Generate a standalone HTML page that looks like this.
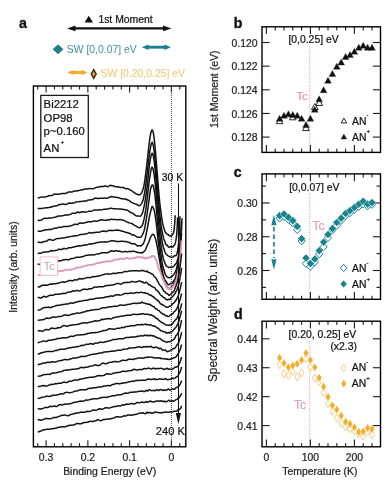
<!DOCTYPE html>
<html><head><meta charset="utf-8"><style>
html,body{margin:0;padding:0;background:#fff;}
svg{display:block;font-family:"Liberation Sans", sans-serif;will-change:transform;}
</style></head><body>
<svg width="392" height="486" viewBox="0 0 392 486">
<rect width="392" height="486" fill="#fff"/>
<text x="19" y="28.3" font-size="14.2" text-anchor="start" fill="#111" stroke="#111" stroke-width="0.35" font-weight="bold" >a</text>
<line x1="72" y1="28.4" x2="166.5" y2="28.4" stroke="#111" stroke-width="2.1" />
<polygon points="67.1,28.4 75.5,25.6 75.5,31.2" fill="#111" stroke="none" stroke-width="0" />
<polygon points="171.4,28.4 163,25.6 163,31.2" fill="#111" stroke="none" stroke-width="0" />
<polygon points="84.6,22.6 88.8,15.8 93,22.6" fill="#111" stroke="none" stroke-width="0" />
<text x="98.4" y="23.4" font-size="10.4" text-anchor="start" fill="#111" stroke="#111" stroke-width="0.22" font-weight="normal" >1st Moment</text>
<polygon points="53,49.3 58,44.8 63,49.3 58,53.8" fill="#17838f" stroke="#0f5e66" stroke-width="0.6" />
<text x="66.8" y="52.9" font-size="10.4" text-anchor="start" fill="#3f9296" stroke="#3f9296" stroke-width="0.22" font-weight="normal" stroke-opacity="0">SW [0,0.07] eV</text>
<line x1="146" y1="47.2" x2="167" y2="47.2" stroke="#17838f" stroke-width="2.9" />
<polygon points="141.8,47.2 148.5,44.5 148.5,49.9" fill="#17838f" stroke="none" stroke-width="0" />
<polygon points="171,47.2 164.3,44.5 164.3,49.9" fill="#17838f" stroke="none" stroke-width="0" />
<line x1="70" y1="72.5" x2="85" y2="72.5" stroke="#f0ae2c" stroke-width="3.2" />
<polygon points="67.3,72.5 73.3,70 73.3,75" fill="#f0ae2c" stroke="none" stroke-width="0" />
<polygon points="87.8,72.5 81.8,70 81.8,75" fill="#f0ae2c" stroke="none" stroke-width="0" />
<polygon points="91.2,74 93.7,69.6 96.2,74 93.7,78.4" fill="#d9a030" stroke="#2e2206" stroke-width="1.3" />
<text x="100.6" y="77.3" font-size="10.4" text-anchor="start" fill="#f0cc78" stroke="#f0cc78" stroke-width="0.22" font-weight="normal" stroke-opacity="0.5">SW [0.20,0.25] eV</text>
<line x1="179.75" y1="86" x2="179.75" y2="89.6" stroke="#1a1a1a" stroke-width="1.1" />
<line x1="179.75" y1="446.8" x2="179.75" y2="443.2" stroke="#1a1a1a" stroke-width="1.1" />
<line x1="171.4" y1="86" x2="171.4" y2="92.5" stroke="#1a1a1a" stroke-width="1.1" />
<line x1="171.4" y1="446.8" x2="171.4" y2="440.3" stroke="#1a1a1a" stroke-width="1.1" />
<line x1="163.05" y1="86" x2="163.05" y2="89.6" stroke="#1a1a1a" stroke-width="1.1" />
<line x1="163.05" y1="446.8" x2="163.05" y2="443.2" stroke="#1a1a1a" stroke-width="1.1" />
<line x1="154.69" y1="86" x2="154.69" y2="89.6" stroke="#1a1a1a" stroke-width="1.1" />
<line x1="154.69" y1="446.8" x2="154.69" y2="443.2" stroke="#1a1a1a" stroke-width="1.1" />
<line x1="146.34" y1="86" x2="146.34" y2="89.6" stroke="#1a1a1a" stroke-width="1.1" />
<line x1="146.34" y1="446.8" x2="146.34" y2="443.2" stroke="#1a1a1a" stroke-width="1.1" />
<line x1="137.98" y1="86" x2="137.98" y2="89.6" stroke="#1a1a1a" stroke-width="1.1" />
<line x1="137.98" y1="446.8" x2="137.98" y2="443.2" stroke="#1a1a1a" stroke-width="1.1" />
<line x1="129.63" y1="86" x2="129.63" y2="92.5" stroke="#1a1a1a" stroke-width="1.1" />
<line x1="129.63" y1="446.8" x2="129.63" y2="440.3" stroke="#1a1a1a" stroke-width="1.1" />
<line x1="121.28" y1="86" x2="121.28" y2="89.6" stroke="#1a1a1a" stroke-width="1.1" />
<line x1="121.28" y1="446.8" x2="121.28" y2="443.2" stroke="#1a1a1a" stroke-width="1.1" />
<line x1="112.92" y1="86" x2="112.92" y2="89.6" stroke="#1a1a1a" stroke-width="1.1" />
<line x1="112.92" y1="446.8" x2="112.92" y2="443.2" stroke="#1a1a1a" stroke-width="1.1" />
<line x1="104.57" y1="86" x2="104.57" y2="89.6" stroke="#1a1a1a" stroke-width="1.1" />
<line x1="104.57" y1="446.8" x2="104.57" y2="443.2" stroke="#1a1a1a" stroke-width="1.1" />
<line x1="96.21" y1="86" x2="96.21" y2="89.6" stroke="#1a1a1a" stroke-width="1.1" />
<line x1="96.21" y1="446.8" x2="96.21" y2="443.2" stroke="#1a1a1a" stroke-width="1.1" />
<line x1="87.86" y1="86" x2="87.86" y2="92.5" stroke="#1a1a1a" stroke-width="1.1" />
<line x1="87.86" y1="446.8" x2="87.86" y2="440.3" stroke="#1a1a1a" stroke-width="1.1" />
<line x1="79.51" y1="86" x2="79.51" y2="89.6" stroke="#1a1a1a" stroke-width="1.1" />
<line x1="79.51" y1="446.8" x2="79.51" y2="443.2" stroke="#1a1a1a" stroke-width="1.1" />
<line x1="71.15" y1="86" x2="71.15" y2="89.6" stroke="#1a1a1a" stroke-width="1.1" />
<line x1="71.15" y1="446.8" x2="71.15" y2="443.2" stroke="#1a1a1a" stroke-width="1.1" />
<line x1="62.8" y1="86" x2="62.8" y2="89.6" stroke="#1a1a1a" stroke-width="1.1" />
<line x1="62.8" y1="446.8" x2="62.8" y2="443.2" stroke="#1a1a1a" stroke-width="1.1" />
<line x1="54.44" y1="86" x2="54.44" y2="89.6" stroke="#1a1a1a" stroke-width="1.1" />
<line x1="54.44" y1="446.8" x2="54.44" y2="443.2" stroke="#1a1a1a" stroke-width="1.1" />
<line x1="46.09" y1="86" x2="46.09" y2="92.5" stroke="#1a1a1a" stroke-width="1.1" />
<line x1="46.09" y1="446.8" x2="46.09" y2="440.3" stroke="#1a1a1a" stroke-width="1.1" />
<line x1="37.74" y1="86" x2="37.74" y2="89.6" stroke="#1a1a1a" stroke-width="1.1" />
<line x1="37.74" y1="446.8" x2="37.74" y2="443.2" stroke="#1a1a1a" stroke-width="1.1" />
<text x="46.09" y="461.3" font-size="10.4" text-anchor="middle" fill="#222" stroke="#222" stroke-width="0.22" font-weight="normal" >0.3</text>
<text x="87.86" y="461.3" font-size="10.4" text-anchor="middle" fill="#222" stroke="#222" stroke-width="0.22" font-weight="normal" >0.2</text>
<text x="129.63" y="461.3" font-size="10.4" text-anchor="middle" fill="#222" stroke="#222" stroke-width="0.22" font-weight="normal" >0.1</text>
<text x="171.4" y="461.3" font-size="10.4" text-anchor="middle" fill="#222" stroke="#222" stroke-width="0.22" font-weight="normal" >0</text>
<text x="109.7" y="474.6" font-size="10.4" text-anchor="middle" fill="#222" stroke="#222" stroke-width="0.22" font-weight="normal" >Binding Energy (eV)</text>
<text x="16.5" y="267" font-size="10.4" text-anchor="middle" fill="#222" stroke="#222" stroke-width="0.22" font-weight="normal" transform="rotate(-90 16.5 267)">Intensity (arb. units)</text>
<line x1="171.4" y1="87" x2="171.4" y2="445.8" stroke="#444" stroke-width="1.0" stroke-dasharray="1 1"/>
<path d="M37.7,197.9 L38.7,197.77 L39.7,197.48 L40.7,197.12 L41.7,196.89 L42.7,196.98 L43.7,197.13 L44.7,197.06 L45.7,196.86 L46.7,196.57 L47.7,196.25 L48.7,195.81 L49.7,195.49 L50.7,195.63 L51.7,195.61 L52.7,195.13 L53.7,194.4 L54.7,194.03 L55.7,194.08 L56.7,194.23 L57.7,194.29 L58.7,194.2 L59.7,193.99 L60.7,193.73 L61.7,193.62 L62.7,193.48 L63.7,193.38 L64.7,193.5 L65.7,193.39 L66.7,193 L67.7,192.42 L68.7,192.03 L69.7,191.93 L70.7,191.97 L71.7,191.94 L72.7,191.67 L73.7,191.21 L74.7,190.9 L75.7,190.94 L76.7,190.99 L77.7,190.72 L78.7,190.54 L79.7,190.27 L80.7,189.91 L81.7,189.95 L82.7,189.83 L83.7,189.29 L84.7,189.11 L85.7,189.08 L86.7,188.98 L87.7,188.92 L88.7,188.64 L89.7,188.4 L90.7,188.58 L91.7,188.73 L92.7,188.72 L93.7,188.56 L94.7,188.13 L95.7,187.63 L96.7,187.3 L97.7,187.26 L98.7,187.05 L99.7,186.72 L100.7,186.43 L101.7,186.38 L102.7,186.57 L103.7,186.53 L104.7,186 L105.7,185.9 L106.7,186.4 L107.7,186.71 L108.7,186.28 L109.7,185.5 L110.7,185.32 L111.7,185.72 L112.7,185.84 L113.7,185.99 L114.7,186.47 L115.7,186.72 L116.7,186.66 L117.7,186.71 L118.7,187.01 L119.7,187.34 L120.7,187.43 L121.7,187.45 L122.7,187.42 L123.7,187.56 L124.7,188.21 L125.7,188.68 L126.7,188.63 L127.7,188.55 L128.7,189.09 L129.7,189.71 L130.7,190.04 L131.7,190.75 L132.7,191.52 L133.7,192.12 L134.7,192.99 L135.7,193.6 L136.7,193.99 L137.7,194.5 L138.7,194.87 L139.7,194.85 L140.7,194.21 L141.2,193.4 L141.7,192.62 L142.2,191.74 L142.7,190.25 L143.2,188.48 L143.7,186.73 L144.2,184.34 L144.7,181.01 L145.2,177.42 L145.7,173.9 L146.2,170.08 L146.7,165.96 L147.2,161.58 L147.7,156.83 L148.2,152.11 L148.7,147.31 L149.2,143.05 L149.7,139.56 L150.2,136.45 L150.7,133.66 L151.2,131.47 L151.7,130.2 L152.2,129.95 L152.7,130.65 L153.2,132.31 L153.7,135.08 L154.2,138.78 L154.7,143.27 L155.2,148.58 L155.7,154.51 L156.2,160.73 L156.7,166.75 L157.2,172.82 L157.7,179.13 L158.2,185.51 L158.7,191.56 L159.2,197.08 L159.7,202.33 L160.2,206.85 L160.7,210.42 L161.2,214.14 L161.7,217.89 L162.2,221.01 L162.7,223.46 L163.2,225.58 L163.7,227.52 L164.2,229.11 L164.7,230.59 L165.2,232.03 L165.7,232.75 L166.2,233.17 L166.7,233.77 L167.2,234.29 L167.7,234.45 L168.2,234.52 L168.7,235.13 L169.2,235.65 L169.7,235.64 L170.2,235.79 L170.7,236.09 L171.2,236.14 L171.7,235.7 L172.2,234.86 L172.7,234.23 L173.2,233.54 L173.7,232.14 L174.2,229.09 L174.7,223.73 L175.2,215.28" fill="none" stroke="#121212" stroke-width="1.5" stroke-linejoin="round"/>
<path d="M37.7,208.59 L38.7,208.58 L39.7,208.4 L40.7,208.5 L41.7,208.57 L42.7,208.31 L43.7,208.12 L44.7,208 L45.7,207.76 L46.7,207.67 L47.7,207.74 L48.7,207.56 L49.7,207.34 L50.7,207.22 L51.7,206.72 L52.7,206.42 L53.7,206.21 L54.7,206.09 L55.7,206.02 L56.7,205.81 L57.7,205.37 L58.7,204.75 L59.7,204.54 L60.7,204.61 L61.7,204.32 L62.7,203.96 L63.7,204 L64.7,204.39 L65.7,204.5 L66.7,204.18 L67.7,203.59 L68.7,203.2 L69.7,203.1 L70.7,203.32 L71.7,203.3 L72.7,203 L73.7,202.99 L74.7,202.74 L75.7,202.08 L76.7,201.71 L77.7,201.87 L78.7,201.7 L79.7,201.42 L80.7,201.41 L81.7,201.46 L82.7,201.28 L83.7,200.95 L84.7,201.04 L85.7,201.15 L86.7,200.82 L87.7,200.21 L88.7,199.89 L89.7,199.92 L90.7,199.8 L91.7,199.69 L92.7,199.54 L93.7,198.9 L94.7,198.26 L95.7,198.11 L96.7,198.19 L97.7,198.46 L98.7,198.43 L99.7,198.17 L100.7,198.14 L101.7,198.22 L102.7,198.2 L103.7,198.15 L104.7,198.03 L105.7,198.12 L106.7,198.24 L107.7,198.01 L108.7,197.56 L109.7,197.21 L110.7,196.73 L111.7,196.52 L112.7,196.72 L113.7,197.1 L114.7,197.15 L115.7,197.24 L116.7,197.4 L117.7,197.49 L118.7,197.66 L119.7,198.12 L120.7,198.56 L121.7,198.65 L122.7,198.83 L123.7,199.04 L124.7,198.98 L125.7,199.02 L126.7,199.53 L127.7,200.04 L128.7,200.23 L129.7,200.83 L130.7,201.76 L131.7,202.4 L132.7,202.87 L133.7,203.41 L134.7,203.74 L135.7,203.9 L136.7,204.34 L137.7,205.15 L138.7,205.75 L139.7,205.55 L140.7,204.75 L141.2,204.08 L141.7,203.3 L142.2,202.41 L142.7,201.15 L143.2,199.44 L143.7,197.28 L144.2,195.03 L144.7,192.19 L145.2,188.97 L145.7,185.67 L146.2,181.62 L146.7,177.09 L147.2,172.88 L147.7,168.72 L148.2,164.38 L148.7,160.18 L149.2,156.12 L149.7,152.29 L150.2,149 L150.7,146.42 L151.2,144.34 L151.7,142.82 L152.2,142.34 L152.7,143.43 L153.2,145.36 L153.7,147.81 L154.2,151.38 L154.7,155.85 L155.2,160.71 L155.7,166.62 L156.2,172.9 L156.7,178.9 L157.2,185.32 L157.7,191.75 L158.2,197.65 L158.7,203.38 L159.2,208.72 L159.7,213.5 L160.2,218.12 L160.7,222.48 L161.2,226.24 L161.7,229.32 L162.2,231.9 L162.7,234.24 L163.2,236.57 L163.7,238.64 L164.2,240.05 L164.7,241.15 L165.2,242.59 L165.7,244.17 L166.2,244.94 L166.7,244.97 L167.2,245.06 L167.7,245.86 L168.2,246.69 L168.7,247.13 L169.2,247.11 L169.7,246.95 L170.2,246.73 L170.7,246.57 L171.2,246.81 L171.7,246.84 L172.2,246.78 L172.7,246.97 L173.2,246.71 L173.7,245.83 L174.2,245.21 L174.7,244.67 L175.2,243.48 L175.7,241.44 L176.2,238.62 L176.7,234.37 L177.2,226.83 L177.6,217.39" fill="none" stroke="#121212" stroke-width="1.5" stroke-linejoin="round"/>
<path d="M37.7,220.04 L38.7,220.41 L39.7,220.52 L40.7,220.34 L41.7,219.8 L42.7,219.16 L43.7,218.69 L44.7,218.24 L45.7,218.21 L46.7,218.4 L47.7,218.34 L48.7,218.04 L49.7,217.93 L50.7,217.95 L51.7,217.88 L52.7,217.69 L53.7,217.39 L54.7,217.16 L55.7,217.04 L56.7,216.7 L57.7,216.27 L58.7,216.08 L59.7,216.06 L60.7,215.98 L61.7,215.85 L62.7,215.68 L63.7,215.46 L64.7,215.1 L65.7,214.86 L66.7,215.01 L67.7,215.09 L68.7,214.82 L69.7,214.46 L70.7,214.11 L71.7,213.57 L72.7,213.22 L73.7,213.27 L74.7,213.29 L75.7,213.14 L76.7,212.53 L77.7,212.04 L78.7,212.32 L79.7,212.69 L80.7,212.31 L81.7,211.79 L82.7,211.76 L83.7,211.96 L84.7,211.97 L85.7,211.91 L86.7,211.89 L87.7,211.61 L88.7,211.3 L89.7,211.3 L90.7,211.37 L91.7,211.16 L92.7,210.66 L93.7,210.12 L94.7,209.99 L95.7,210.03 L96.7,209.96 L97.7,209.97 L98.7,209.9 L99.7,209.72 L100.7,209.71 L101.7,209.9 L102.7,209.62 L103.7,209.14 L104.7,209.16 L105.7,209.31 L106.7,209.04 L107.7,208.91 L108.7,208.8 L109.7,208.42 L110.7,208.16 L111.7,208.33 L112.7,208.64 L113.7,208.84 L114.7,208.82 L115.7,208.76 L116.7,208.87 L117.7,208.94 L118.7,208.92 L119.7,208.95 L120.7,209.1 L121.7,209.24 L122.7,209.23 L123.7,209.42 L124.7,209.69 L125.7,209.84 L126.7,210.05 L127.7,210.36 L128.7,211.09 L129.7,211.98 L130.7,212.58 L131.7,212.9 L132.7,213.22 L133.7,213.88 L134.7,214.94 L135.7,215.66 L136.7,216 L137.7,216.08 L138.7,216.12 L139.7,216.14 L140.7,216.03 L141.2,215.54 L141.7,214.47 L142.2,213.6 L142.7,212.35 L143.2,210.31 L143.7,208.15 L144.2,206 L144.7,203.45 L145.2,200.45 L145.7,197.29 L146.2,193.78 L146.7,189.87 L147.2,185.73 L147.7,181.36 L148.2,176.55 L148.7,171.57 L149.2,167.11 L149.7,163.16 L150.2,159.85 L150.7,157.31 L151.2,155.4 L151.7,153.99 L152.2,153.2 L152.7,153.68 L153.2,155.43 L153.7,158.02 L154.2,161.4 L154.7,165.59 L155.2,170.55 L155.7,176.25 L156.2,182.16 L156.7,188.12 L157.2,194.16 L157.7,200.1 L158.2,205.86 L158.7,211.87 L159.2,217.62 L159.7,222.74 L160.2,227.57 L160.7,231.76 L161.2,235.32 L161.7,238.69 L162.2,241.8 L162.7,244.53 L163.2,246.73 L163.7,248.36 L164.2,249.75 L164.7,251.18 L165.2,252.53 L165.7,253.64 L166.2,254.29 L166.7,254.61 L167.2,254.98 L167.7,255.51 L168.2,255.87 L168.7,256.15 L169.2,256.48 L169.7,256.72 L170.2,256.9 L170.7,257.01 L171.2,257.15 L171.7,257.34 L172.2,257.18 L172.7,257.06 L173.2,256.92 L173.7,256.5 L174.2,255.83 L174.7,255.69 L175.2,255.85 L175.7,255.85 L176.2,255.4 L176.7,254.25 L177.2,252.68 L177.7,250.46 L178.2,247.15 L178.7,242.25 L179.2,235.13 L179.7,224.79 L180,216.25" fill="none" stroke="#121212" stroke-width="1.5" stroke-linejoin="round"/>
<path d="M37.7,231.48 L38.7,231.09 L39.7,231.15 L40.7,231.23 L41.7,230.83 L42.7,230.56 L43.7,230.45 L44.7,230.07 L45.7,229.7 L46.7,229.69 L47.7,229.7 L48.7,229.49 L49.7,229.32 L50.7,229.51 L51.7,229.4 L52.7,228.88 L53.7,228.47 L54.7,228.32 L55.7,228.24 L56.7,227.94 L57.7,227.68 L58.7,227.36 L59.7,227.21 L60.7,227.38 L61.7,227.34 L62.7,226.89 L63.7,226.56 L64.7,226.51 L65.7,226.39 L66.7,226.38 L67.7,226.44 L68.7,226.18 L69.7,225.9 L70.7,225.88 L71.7,225.56 L72.7,225.13 L73.7,224.68 L74.7,224.32 L75.7,224.26 L76.7,224.61 L77.7,224.41 L78.7,223.57 L79.7,222.99 L80.7,223.04 L81.7,223.32 L82.7,223.18 L83.7,222.91 L84.7,222.69 L85.7,222.43 L86.7,222.16 L87.7,221.96 L88.7,221.76 L89.7,221.82 L90.7,221.91 L91.7,221.76 L92.7,221.38 L93.7,221.09 L94.7,221.05 L95.7,221.15 L96.7,221.31 L97.7,221.11 L98.7,220.63 L99.7,220.21 L100.7,219.93 L101.7,219.8 L102.7,219.89 L103.7,220.06 L104.7,220.17 L105.7,220.29 L106.7,220.22 L107.7,219.83 L108.7,219.87 L109.7,219.92 L110.7,219.33 L111.7,219.15 L112.7,219.4 L113.7,219.56 L114.7,219.59 L115.7,219.59 L116.7,219.7 L117.7,219.81 L118.7,219.72 L119.7,219.44 L120.7,219.59 L121.7,219.93 L122.7,220.08 L123.7,220.4 L124.7,220.91 L125.7,221.31 L126.7,221.83 L127.7,222.32 L128.7,222.66 L129.7,222.95 L130.7,223.12 L131.7,223.41 L132.7,224.12 L133.7,224.83 L134.7,225.34 L135.7,225.97 L136.7,226.58 L137.7,227.03 L138.7,227.64 L139.7,227.85 L140.7,227.15 L141.2,226.58 L141.7,226.11 L142.2,225.48 L142.7,224.3 L143.2,222.66 L143.7,220.62 L144.2,218.4 L144.7,215.78 L145.2,212.93 L145.7,210.1 L146.2,206.49 L146.7,202.29 L147.2,198.31 L147.7,194.21 L148.2,189.93 L148.7,185.49 L149.2,181.18 L149.7,177.66 L150.2,174.58 L150.7,171.49 L151.2,168.96 L151.7,167.47 L152.2,167.18 L152.7,168.09 L153.2,169.75 L153.7,171.92 L154.2,175.06 L154.7,179.04 L155.2,183.28 L155.7,188.29 L156.2,194.1 L156.7,199.97 L157.2,205.69 L157.7,211.69 L158.2,217.88 L158.7,223.58 L159.2,228.76 L159.7,233.81 L160.2,238.58 L160.7,242.9 L161.2,246.62 L161.7,249.88 L162.2,252.92 L162.7,255.77 L163.2,258.02 L163.7,259.67 L164.2,261.13 L164.7,262.37 L165.2,263.66 L165.7,264.95 L166.2,265.82 L166.7,266.21 L167.2,266.58 L167.7,266.88 L168.2,267.04 L168.7,267.35 L169.2,267.6 L169.7,267.61 L170.2,267.25 L170.7,267.04 L171.2,267.27 L171.7,267.36 L172.2,267.23 L172.7,267.08 L173.2,266.68 L173.7,266.23 L174.2,265.75 L174.7,265.03 L175.2,264.51 L175.7,264.12 L176.2,263.43 L176.7,262.28 L177.2,260.84 L177.7,259.2 L178.2,257.48 L178.7,255.27 L179.2,252.33 L179.7,248.8 L180.2,244.14 L180.7,238.66 L181.2,232.26 L181.7,224.27 L182,218.33" fill="none" stroke="#121212" stroke-width="1.5" stroke-linejoin="round"/>
<path d="M37.7,241.79 L38.7,242.18 L39.7,242.41 L40.7,242.51 L41.7,242.47 L42.7,241.99 L43.7,241.61 L44.7,241.49 L45.7,241.38 L46.7,241.07 L47.7,240.37 L48.7,239.7 L49.7,239.37 L50.7,239.71 L51.7,239.98 L52.7,240.19 L53.7,240.16 L54.7,239.6 L55.7,239.04 L56.7,238.66 L57.7,238.42 L58.7,238.4 L59.7,238.48 L60.7,238.33 L61.7,238.1 L62.7,237.99 L63.7,237.98 L64.7,237.77 L65.7,237.49 L66.7,237.27 L67.7,236.91 L68.7,236.73 L69.7,236.86 L70.7,236.63 L71.7,236.29 L72.7,236.24 L73.7,235.94 L74.7,235.65 L75.7,235.81 L76.7,235.78 L77.7,235.53 L78.7,235.14 L79.7,234.65 L80.7,234.39 L81.7,234.5 L82.7,234.38 L83.7,234.14 L84.7,234.03 L85.7,233.93 L86.7,233.75 L87.7,233.38 L88.7,232.9 L89.7,232.5 L90.7,232.65 L91.7,233 L92.7,232.97 L93.7,232.58 L94.7,232.45 L95.7,232.47 L96.7,232.27 L97.7,232.25 L98.7,232.24 L99.7,231.97 L100.7,231.67 L101.7,231.3 L102.7,231.13 L103.7,231.07 L104.7,231.18 L105.7,231.45 L106.7,231.39 L107.7,230.79 L108.7,230.44 L109.7,230.4 L110.7,230.34 L111.7,230.49 L112.7,230.57 L113.7,230.46 L114.7,230.32 L115.7,230.19 L116.7,230.23 L117.7,230.11 L118.7,230.16 L119.7,230.42 L120.7,230.79 L121.7,231.16 L122.7,231.29 L123.7,231.45 L124.7,231.94 L125.7,232.36 L126.7,232.49 L127.7,232.8 L128.7,233.19 L129.7,233.32 L130.7,233.75 L131.7,234.73 L132.7,235.07 L133.7,234.85 L134.7,235.31 L135.7,236.19 L136.7,236.88 L137.7,237.19 L138.7,237.18 L139.7,237.14 L140.7,237.13 L141.2,236.89 L141.7,236.07 L142.2,235.21 L142.7,234.28 L143.2,233.01 L143.7,231.73 L144.2,230.21 L144.7,228.2 L145.2,225.6 L145.7,222.75 L146.2,219.8 L146.7,216.55 L147.2,213.02 L147.7,209.51 L148.2,206.05 L148.7,202.51 L149.2,198.71 L149.7,194.73 L150.2,191.22 L150.7,188.62 L151.2,187.02 L151.7,185.64 L152.2,184.9 L152.7,184.94 L153.2,185.72 L153.7,187.57 L154.2,190.05 L154.7,193.27 L155.2,197.63 L155.7,202.36 L156.2,207.2 L156.7,212.74 L157.2,218.47 L157.7,224.13 L158.2,229.74 L158.7,235.12 L159.2,240.08 L159.7,244.79 L160.2,249.14 L160.7,253.11 L161.2,256.64 L161.7,260.12 L162.2,263.32 L162.7,265.69 L163.2,267.47 L163.7,269.08 L164.2,270.81 L164.7,272.58 L165.2,274.04 L165.7,275.04 L166.2,275.81 L166.7,276.51 L167.2,277.08 L167.7,277.26 L168.2,277.5 L168.7,277.85 L169.2,277.86 L169.7,277.61 L170.2,277.38 L170.7,277.29 L171.2,277.2 L171.7,276.76 L172.2,276.19 L172.7,275.85 L173.2,275.32 L173.7,274.63 L174.2,274 L174.7,273.11 L175.2,272.13 L175.7,271.19 L176.2,269.79 L176.7,267.81 L177.2,265.72 L177.7,263.52 L178.2,261.02 L178.7,257.63 L179.2,253.62 L179.7,248.98 L180.2,243.78 L180.7,237.26 L181.2,229.03 L181.6,221.79" fill="none" stroke="#121212" stroke-width="1.5" stroke-linejoin="round"/>
<path d="M37.7,253.63 L38.7,253.33 L39.7,253.28 L40.7,253.37 L41.7,252.88 L42.7,252.33 L43.7,252.18 L44.7,252.03 L45.7,252.05 L46.7,251.91 L47.7,251.87 L48.7,251.82 L49.7,251.31 L50.7,250.65 L51.7,250.54 L52.7,250.9 L53.7,250.84 L54.7,250.51 L55.7,250.47 L56.7,250.34 L57.7,249.82 L58.7,249.24 L59.7,249.3 L60.7,249.61 L61.7,249.55 L62.7,249 L63.7,248.38 L64.7,248.49 L65.7,248.89 L66.7,248.86 L67.7,248.19 L68.7,247.8 L69.7,247.79 L70.7,247.75 L71.7,247.54 L72.7,247.35 L73.7,247 L74.7,246.76 L75.7,246.55 L76.7,246.32 L77.7,245.94 L78.7,245.8 L79.7,246.01 L80.7,245.89 L81.7,245.58 L82.7,245.52 L83.7,245.36 L84.7,244.97 L85.7,244.84 L86.7,244.88 L87.7,244.65 L88.7,244.11 L89.7,243.82 L90.7,244.08 L91.7,244.06 L92.7,243.75 L93.7,243.5 L94.7,243.31 L95.7,242.96 L96.7,242.61 L97.7,242.45 L98.7,242.34 L99.7,242.18 L100.7,242.11 L101.7,242.12 L102.7,241.97 L103.7,241.9 L104.7,241.81 L105.7,241.97 L106.7,242.08 L107.7,241.75 L108.7,241.39 L109.7,241.3 L110.7,241.1 L111.7,240.77 L112.7,240.83 L113.7,241.02 L114.7,241.07 L115.7,241.21 L116.7,241.45 L117.7,241.59 L118.7,241.61 L119.7,241.48 L120.7,241.31 L121.7,241.29 L122.7,241.35 L123.7,241.41 L124.7,241.39 L125.7,241.39 L126.7,241.73 L127.7,242.07 L128.7,242.3 L129.7,242.73 L130.7,243.22 L131.7,243.66 L132.7,243.86 L133.7,243.64 L134.7,243.85 L135.7,244.5 L136.7,245.53 L137.7,246.01 L138.7,245.7 L139.7,245.86 L140.7,246.02 L141.2,245.81 L141.7,245.32 L142.2,244.72 L142.7,244.46 L143.2,243.88 L143.7,242.77 L144.2,241.5 L144.7,240.13 L145.2,238.4 L145.7,236.35 L146.2,233.86 L146.7,231.24 L147.2,228.97 L147.7,226.57 L148.2,223.73 L148.7,220.66 L149.2,217.9 L149.7,215.41 L150.2,213.11 L150.7,211.21 L151.2,209.35 L151.7,207.41 L152.2,206.44 L152.7,206.86 L153.2,207.8 L153.7,208.92 L154.2,210.44 L154.7,212.54 L155.2,215.54 L155.7,219.17 L156.2,222.8 L156.7,226.84 L157.2,231.84 L157.7,237.26 L158.2,241.85 L158.7,245.73 L159.2,249.79 L159.7,254 L160.2,258.03 L160.7,261.78 L161.2,264.89 L161.7,267.74 L162.2,270.57 L162.7,272.87 L163.2,274.89 L163.7,276.69 L164.2,278.24 L164.7,279.54 L165.2,280.35 L165.7,280.89 L166.2,281.58 L166.7,282.51 L167.2,283.41 L167.7,284.12 L168.2,284.6 L168.7,284.82 L169.2,284.68 L169.7,284.28 L170.2,283.78 L170.7,283.4 L171.2,283.42 L171.7,283.39 L172.2,282.96 L172.7,282.27 L173.2,281.63 L173.7,281 L174.2,280.12 L174.7,279.12 L175.2,277.93 L175.7,276.53 L176.2,274.84 L176.7,272.63 L177.2,270.16 L177.7,267.51 L178.2,264.8 L178.7,261.89 L179.2,257.99 L179.7,253.02 L180.2,247.5 L180.7,241.26 L181.2,233.9 L181.6,227.14" fill="none" stroke="#121212" stroke-width="1.5" stroke-linejoin="round"/>
<path d="M37.7,264.06 L38.7,264.19 L39.7,264.46 L40.7,264.48 L41.7,264.01 L42.7,263.49 L43.7,263.21 L44.7,263.03 L45.7,263.06 L46.7,263.15 L47.7,262.92 L48.7,262.94 L49.7,263.17 L50.7,262.92 L51.7,262.34 L52.7,261.95 L53.7,262.02 L54.7,262.14 L55.7,261.97 L56.7,261.68 L57.7,261.31 L58.7,261 L59.7,260.78 L60.7,260.72 L61.7,260.48 L62.7,259.95 L63.7,259.77 L64.7,259.68 L65.7,259.45 L66.7,259.41 L67.7,259.67 L68.7,259.75 L69.7,259.34 L70.7,258.74 L71.7,258.45 L72.7,258.61 L73.7,258.36 L74.7,257.85 L75.7,257.46 L76.7,257.27 L77.7,257.13 L78.7,257.17 L79.7,257.18 L80.7,256.98 L81.7,256.71 L82.7,256.55 L83.7,256.46 L84.7,255.93 L85.7,255.43 L86.7,255.36 L87.7,255.22 L88.7,255.06 L89.7,255.05 L90.7,254.94 L91.7,254.7 L92.7,254.8 L93.7,255.01 L94.7,254.79 L95.7,254.38 L96.7,254.11 L97.7,253.93 L98.7,253.84 L99.7,253.7 L100.7,253.18 L101.7,252.66 L102.7,252.66 L103.7,252.76 L104.7,252.78 L105.7,252.68 L106.7,252.8 L107.7,252.78 L108.7,252.13 L109.7,251.5 L110.7,251.08 L111.7,250.81 L112.7,250.98 L113.7,251.31 L114.7,251.14 L115.7,250.76 L116.7,250.84 L117.7,251.14 L118.7,251.11 L119.7,251.15 L120.7,251.47 L121.7,251.87 L122.7,252 L123.7,251.75 L124.7,251.46 L125.7,251.56 L126.7,251.88 L127.7,251.83 L128.7,251.54 L129.7,251.51 L130.7,251.56 L131.7,251.49 L132.7,251.32 L133.7,251.24 L134.7,251.37 L135.7,251.73 L136.7,252.32 L137.7,252.49 L138.7,252.52 L139.7,252.87 L140.7,252.79 L141.2,252.56 L141.7,252.91 L142.2,253.08 L142.7,252.74 L143.2,252.06 L143.7,251.7 L144.2,251.37 L144.7,250.83 L145.2,250.19 L145.7,249.26 L146.2,247.88 L146.7,246.58 L147.2,245.49 L147.7,244.47 L148.2,243.4 L148.7,242.27 L149.2,240.93 L149.7,239.42 L150.2,237.96 L150.7,236.9 L151.2,236.18 L151.7,235.39 L152.2,234.62 L152.7,234.32 L153.2,234.45 L153.7,234.71 L154.2,235.51 L154.7,236.67 L155.2,237.98 L155.7,239.66 L156.2,241.7 L156.7,244.22 L157.2,246.68 L157.7,249.24 L158.2,252.25 L158.7,255.33 L159.2,258.39 L159.7,261.16 L160.2,263.93 L160.7,266.69 L161.2,269.24 L161.7,271.63 L162.2,273.89 L162.7,276.07 L163.2,277.9 L163.7,279.28 L164.2,280.62 L164.7,282.36 L165.2,283.58 L165.7,284.41 L166.2,285.58 L166.7,286.71 L167.2,287.35 L167.7,287.73 L168.2,288.27 L168.7,288.66 L169.2,288.84 L169.7,288.51 L170.2,288.01 L170.7,287.4 L171.2,287 L171.7,286.96 L172.2,286.75 L172.7,286.2 L173.2,285.17 L173.7,283.79 L174.2,282.51 L174.7,281.49 L175.2,280.38 L175.7,279.14 L176.2,277.78 L176.7,275.95 L177.2,273.68 L177.7,271.15 L178.2,268.29 L178.7,265.1 L179.2,261.41 L179.7,256.86 L180.2,251.33 L180.7,245.37 L181.2,238.96 L181.6,232.89" fill="none" stroke="#121212" stroke-width="1.5" stroke-linejoin="round"/>
<path d="M37.7,275.79 L38.7,275.22 L39.7,275 L40.7,274.82 L41.7,274.5 L42.7,274.51 L43.7,274.78 L44.7,274.88 L45.7,274.52 L46.7,273.75 L47.7,273.35 L48.7,273.53 L49.7,273.55 L50.7,273.11 L51.7,272.73 L52.7,272.81 L53.7,272.81 L54.7,272.47 L55.7,272.09 L56.7,271.97 L57.7,271.74 L58.7,271.16 L59.7,270.76 L60.7,270.9 L61.7,270.97 L62.7,270.81 L63.7,270.56 L64.7,270.17 L65.7,269.89 L66.7,269.82 L67.7,269.91 L68.7,269.88 L69.7,269.7 L70.7,269.74 L71.7,269.58 L72.7,269.17 L73.7,268.92 L74.7,268.68 L75.7,268.13 L76.7,267.6 L77.7,267.36 L78.7,267.51 L79.7,267.6 L80.7,267.33 L81.7,266.92 L82.7,266.53 L83.7,266.16 L84.7,265.91 L85.7,265.88 L86.7,265.53 L87.7,265.06 L88.7,264.84 L89.7,264.9 L90.7,265.08 L91.7,264.88 L92.7,264.47 L93.7,264.46 L94.7,264.28 L95.7,263.65 L96.7,263.11 L97.7,262.97 L98.7,263 L99.7,262.94 L100.7,262.53 L101.7,262.11 L102.7,262.03 L103.7,261.97 L104.7,261.9 L105.7,261.55 L106.7,261.23 L107.7,261.11 L108.7,261.24 L109.7,261.49 L110.7,261.42 L111.7,261.06 L112.7,260.52 L113.7,259.97 L114.7,259.76 L115.7,259.65 L116.7,259.58 L117.7,259.55 L118.7,259.27 L119.7,258.9 L120.7,258.56 L121.7,258.51 L122.7,258.96 L123.7,259.17 L124.7,258.72 L125.7,257.98 L126.7,257.67 L127.7,258.14 L128.7,258.55 L129.7,258.55 L130.7,258.59 L131.7,258.62 L132.7,258.36 L133.7,258.06 L134.7,258.04 L135.7,257.78 L136.7,257.28 L137.7,257.06 L138.7,257.07 L139.7,257.31 L140.7,257.36 L141.2,257.02 L141.7,257 L142.2,257.56 L142.7,257.87 L143.2,257.77 L143.7,257.58 L144.2,257.97 L144.7,258.45 L145.2,258.37 L145.7,257.91 L146.2,257.72 L146.7,257.82 L147.2,258.07 L147.7,258.07 L148.2,257.69 L148.7,257.4 L149.2,257.44 L149.7,257.36 L150.2,257.26 L150.7,257.17 L151.2,257.03 L151.7,256.54 L152.2,255.95 L152.7,255.85 L153.2,255.93 L153.7,255.91 L154.2,256.4 L154.7,257.36 L155.2,258.31 L155.7,259.07 L156.2,259.9 L156.7,261.32 L157.2,263.28 L157.7,265.3 L158.2,267 L158.7,268.23 L159.2,269.63 L159.7,270.81 L160.2,271.7 L160.7,273.01 L161.2,274.54 L161.7,275.9 L162.2,277.25 L162.7,278.55 L163.2,279.71 L163.7,280.92 L164.2,281.99 L164.7,283.12 L165.2,284.29 L165.7,285.29 L166.2,286.4 L166.7,287.38 L167.2,287.85 L167.7,288.26 L168.2,288.7 L168.7,288.96 L169.2,289.02 L169.7,288.8 L170.2,288.6 L170.7,288.25 L171.2,288.02 L171.7,287.89 L172.2,287.47 L172.7,287.15 L173.2,286.62 L173.7,285.73 L174.2,284.7 L174.7,283.98 L175.2,282.98 L175.7,281.49 L176.2,280.13 L176.7,278.73 L177.2,276.51 L177.7,273.88 L178.2,271.27 L178.7,268.52 L179.2,265.25 L179.7,261.47 L180.2,257.02 L180.7,251.64 L181.2,245.67 L181.6,240.44" fill="none" stroke="#dc9cb5" stroke-width="1.9" stroke-linejoin="round"/>
<path d="M37.7,286.78 L38.7,287.04 L39.7,286.86 L40.7,286.08 L41.7,285.52 L42.7,285.25 L43.7,285.15 L44.7,285.17 L45.7,285.08 L46.7,285.28 L47.7,285.21 L48.7,284.6 L49.7,284.17 L50.7,284.04 L51.7,284.14 L52.7,284 L53.7,283.85 L54.7,283.83 L55.7,283.71 L56.7,283.42 L57.7,283.15 L58.7,282.92 L59.7,282.68 L60.7,282.38 L61.7,282.1 L62.7,281.83 L63.7,282.06 L64.7,282.34 L65.7,281.93 L66.7,281.4 L67.7,281.16 L68.7,280.78 L69.7,280.46 L70.7,280.59 L71.7,280.83 L72.7,280.71 L73.7,280.27 L74.7,279.85 L75.7,279.82 L76.7,280.02 L77.7,279.7 L78.7,278.97 L79.7,278.51 L80.7,278.78 L81.7,279.15 L82.7,278.79 L83.7,278.5 L84.7,278.39 L85.7,278.14 L86.7,277.74 L87.7,277.38 L88.7,277.45 L89.7,277.67 L90.7,277.44 L91.7,277.06 L92.7,276.63 L93.7,276.58 L94.7,276.73 L95.7,276.6 L96.7,276.25 L97.7,276.16 L98.7,275.99 L99.7,275.69 L100.7,275.46 L101.7,275.12 L102.7,274.84 L103.7,274.53 L104.7,274.14 L105.7,274.12 L106.7,274 L107.7,273.84 L108.7,273.98 L109.7,274.13 L110.7,274.05 L111.7,273.83 L112.7,273.32 L113.7,273.2 L114.7,273.54 L115.7,273.54 L116.7,273.23 L117.7,272.9 L118.7,272.87 L119.7,272.82 L120.7,272.69 L121.7,272.57 L122.7,272.39 L123.7,271.89 L124.7,271.46 L125.7,271.45 L126.7,271.65 L127.7,271.39 L128.7,271.04 L129.7,270.93 L130.7,270.89 L131.7,270.81 L132.7,270.83 L133.7,270.8 L134.7,270.7 L135.7,270.67 L136.7,270.77 L137.7,270.82 L138.7,270.92 L139.7,270.96 L140.7,270.7 L141.2,270.32 L141.7,270.39 L142.2,270.68 L142.7,270.8 L143.2,270.59 L143.7,270.62 L144.2,270.87 L144.7,271.16 L145.2,271.41 L145.7,271.46 L146.2,271.39 L146.7,271.09 L147.2,271.24 L147.7,271.94 L148.2,272.34 L148.7,272.48 L149.2,272.6 L149.7,272.69 L150.2,272.85 L150.7,273.28 L151.2,273.7 L151.7,274.1 L152.2,274.16 L152.7,274.14 L153.2,274.76 L153.7,275.72 L154.2,276.27 L154.7,276.72 L155.2,277.3 L155.7,277.85 L156.2,278.49 L156.7,279.36 L157.2,280.34 L157.7,281.3 L158.2,282.16 L158.7,283.23 L159.2,284.22 L159.7,284.95 L160.2,285.48 L160.7,285.98 L161.2,286.62 L161.7,287.29 L162.2,288.01 L162.7,288.87 L163.2,289.88 L163.7,290.96 L164.2,291.52 L164.7,291.68 L165.2,292.01 L165.7,292.72 L166.2,293.25 L166.7,293.45 L167.2,293.58 L167.7,293.91 L168.2,294.59 L168.7,295.18 L169.2,295.4 L169.7,294.98 L170.2,294.57 L170.7,294.36 L171.2,293.86 L171.7,293.2 L172.2,292.56 L172.7,292.16 L173.2,291.96 L173.7,291.46 L174.2,290.52 L174.7,289.2 L175.2,287.89 L175.7,286.68 L176.2,285.39 L176.7,283.82 L177.2,282.38 L177.7,280.77 L178.2,278.48 L178.7,275.69 L179.2,272.77 L179.7,269.31 L180.2,265.43 L180.7,261.47 L181.2,257.38 L181.6,253.63" fill="none" stroke="#121212" stroke-width="1.5" stroke-linejoin="round"/>
<path d="M37.7,297.6 L38.7,297.53 L39.7,297.8 L40.7,298.14 L41.7,297.74 L42.7,296.88 L43.7,296.33 L44.7,296.5 L45.7,296.96 L46.7,296.93 L47.7,296.3 L48.7,295.71 L49.7,295.34 L50.7,295.17 L51.7,295.28 L52.7,295.19 L53.7,294.96 L54.7,294.44 L55.7,294.22 L56.7,294.32 L57.7,294.31 L58.7,294.27 L59.7,293.96 L60.7,293.68 L61.7,293.72 L62.7,293.52 L63.7,293.23 L64.7,293.42 L65.7,293.34 L66.7,292.79 L67.7,292.12 L68.7,291.95 L69.7,292.1 L70.7,292.01 L71.7,291.46 L72.7,290.98 L73.7,290.8 L74.7,290.95 L75.7,290.88 L76.7,290.51 L77.7,290.51 L78.7,290.85 L79.7,290.97 L80.7,290.58 L81.7,289.93 L82.7,289.41 L83.7,289.2 L84.7,289.21 L85.7,289.3 L86.7,289.41 L87.7,289.42 L88.7,289.01 L89.7,288.69 L90.7,288.83 L91.7,288.7 L92.7,288.14 L93.7,287.48 L94.7,287.04 L95.7,287.12 L96.7,287.26 L97.7,286.92 L98.7,286.64 L99.7,286.74 L100.7,286.83 L101.7,286.82 L102.7,286.76 L103.7,286.52 L104.7,286.1 L105.7,285.84 L106.7,285.6 L107.7,285.54 L108.7,285.46 L109.7,285.36 L110.7,285.25 L111.7,285.1 L112.7,285.04 L113.7,284.83 L114.7,284.37 L115.7,283.89 L116.7,283.6 L117.7,283.51 L118.7,283.57 L119.7,283.88 L120.7,284.19 L121.7,283.87 L122.7,283.27 L123.7,282.7 L124.7,282.44 L125.7,282.43 L126.7,282.38 L127.7,282.36 L128.7,282.48 L129.7,282.31 L130.7,281.95 L131.7,281.52 L132.7,281.62 L133.7,281.86 L134.7,281.93 L135.7,281.94 L136.7,281.82 L137.7,281.48 L138.7,281.08 L139.7,280.97 L140.7,281.16 L141.2,281.7 L141.7,281.98 L142.2,281.87 L142.7,281.81 L143.2,282.21 L143.7,282.88 L144.2,283.1 L144.7,282.94 L145.2,282.74 L145.7,282.31 L146.2,282.21 L146.7,282.59 L147.2,282.96 L147.7,283.43 L148.2,284.21 L148.7,284.78 L149.2,284.66 L149.7,284.71 L150.2,285.06 L150.7,285.52 L151.2,286.12 L151.7,286.43 L152.2,286.39 L152.7,286.69 L153.2,287.17 L153.7,287.46 L154.2,287.46 L154.7,287.61 L155.2,288.27 L155.7,289.34 L156.2,290.08 L156.7,290.29 L157.2,290.44 L157.7,291.05 L158.2,291.62 L158.7,292.1 L159.2,292.88 L159.7,293.83 L160.2,294.49 L160.7,294.92 L161.2,295.33 L161.7,295.68 L162.2,296.18 L162.7,296.74 L163.2,297.21 L163.7,297.51 L164.2,297.76 L164.7,298.07 L165.2,298.6 L165.7,299.25 L166.2,299.46 L166.7,299.67 L167.2,299.98 L167.7,299.71 L168.2,299.21 L168.7,299.32 L169.2,299.61 L169.7,299.66 L170.2,299.28 L170.7,298.5 L171.2,297.64 L171.7,297.21 L172.2,297.05 L172.7,296.59 L173.2,295.82 L173.7,295.17 L174.2,294.62 L174.7,294.02 L175.2,293.2 L175.7,292.08 L176.2,291.07 L176.7,290.37 L177.2,289.26 L177.7,287.63 L178.2,285.96 L178.7,284.12 L179.2,282.02 L179.7,279.55 L180.2,276.86 L180.7,274.17 L181.2,271 L181.6,267.89" fill="none" stroke="#121212" stroke-width="1.5" stroke-linejoin="round"/>
<path d="M37.7,310.29 L38.7,310.1 L39.7,309.86 L40.7,309.48 L41.7,308.84 L42.7,308.17 L43.7,307.72 L44.7,307.55 L45.7,307.57 L46.7,307.51 L47.7,307.24 L48.7,307.1 L49.7,307.58 L50.7,307.63 L51.7,307.07 L52.7,306.7 L53.7,306.47 L54.7,306.16 L55.7,305.82 L56.7,305.51 L57.7,305.29 L58.7,305.25 L59.7,305.16 L60.7,304.92 L61.7,304.62 L62.7,304.52 L63.7,304.47 L64.7,304.26 L65.7,303.97 L66.7,304.01 L67.7,304.06 L68.7,303.76 L69.7,303.28 L70.7,302.98 L71.7,302.99 L72.7,303.16 L73.7,303.07 L74.7,302.56 L75.7,302.18 L76.7,302.09 L77.7,301.84 L78.7,301.42 L79.7,301.23 L80.7,301.27 L81.7,301.12 L82.7,300.66 L83.7,300.45 L84.7,300.42 L85.7,300.22 L86.7,300.2 L87.7,300.13 L88.7,299.8 L89.7,299.47 L90.7,299.36 L91.7,299.3 L92.7,299.15 L93.7,298.97 L94.7,298.77 L95.7,298.36 L96.7,298.27 L97.7,298.37 L98.7,298.31 L99.7,298.01 L100.7,297.8 L101.7,297.68 L102.7,297.79 L103.7,297.74 L104.7,297.29 L105.7,296.9 L106.7,296.72 L107.7,296.85 L108.7,296.78 L109.7,296.26 L110.7,295.87 L111.7,296 L112.7,296.19 L113.7,296.04 L114.7,295.47 L115.7,294.81 L116.7,294.78 L117.7,294.93 L118.7,294.79 L119.7,294.98 L120.7,295.13 L121.7,294.87 L122.7,294.44 L123.7,293.84 L124.7,293.43 L125.7,293.39 L126.7,293.41 L127.7,293.42 L128.7,293.38 L129.7,293.21 L130.7,293.1 L131.7,293.07 L132.7,293.13 L133.7,293.24 L134.7,293.01 L135.7,292.65 L136.7,292.43 L137.7,292.49 L138.7,292.71 L139.7,292.53 L140.7,292.23 L141.2,292.23 L141.7,292.42 L142.2,292.63 L142.7,292.76 L143.2,292.7 L143.7,292.83 L144.2,292.86 L144.7,292.79 L145.2,293.01 L145.7,293.31 L146.2,293.49 L146.7,293.55 L147.2,293.51 L147.7,293.42 L148.2,293.77 L148.7,294.5 L149.2,294.91 L149.7,294.94 L150.2,295.06 L150.7,295.23 L151.2,295.17 L151.7,295.61 L152.2,296.36 L152.7,296.68 L153.2,296.61 L153.7,296.96 L154.2,297.81 L154.7,298.21 L155.2,298.41 L155.7,298.91 L156.2,299.26 L156.7,299.48 L157.2,300.25 L157.7,300.71 L158.2,300.83 L158.7,301.3 L159.2,301.83 L159.7,302.67 L160.2,303.46 L160.7,303.93 L161.2,303.99 L161.7,304.29 L162.2,304.71 L162.7,304.82 L163.2,304.99 L163.7,305.36 L164.2,305.67 L164.7,305.96 L165.2,306.44 L165.7,306.83 L166.2,307.09 L166.7,307.31 L167.2,307.27 L167.7,307.23 L168.2,307.03 L168.7,306.73 L169.2,306.35 L169.7,306.28 L170.2,306.12 L170.7,305.74 L171.2,305.36 L171.7,304.95 L172.2,304.33 L172.7,303.71 L173.2,303.42 L173.7,303.08 L174.2,302.49 L174.7,301.87 L175.2,301.42 L175.7,300.82 L176.2,299.86 L176.7,298.96 L177.2,298.25 L177.7,297.23 L178.2,295.9 L178.7,294.29 L179.2,292.42 L179.7,290.64 L180.2,288.77 L180.7,286.46 L181.2,284.05 L181.6,282.09" fill="none" stroke="#121212" stroke-width="1.5" stroke-linejoin="round"/>
<path d="M37.7,320.33 L38.7,320.17 L39.7,320.07 L40.7,319.9 L41.7,319.86 L42.7,319.81 L43.7,319.56 L44.7,319.07 L45.7,318.4 L46.7,318.04 L47.7,318.15 L48.7,318.42 L49.7,318.32 L50.7,317.82 L51.7,317.5 L52.7,317.2 L53.7,317.02 L54.7,317.07 L55.7,317.16 L56.7,317.09 L57.7,316.85 L58.7,316.52 L59.7,316.51 L60.7,316.44 L61.7,316.13 L62.7,315.77 L63.7,315.3 L64.7,314.94 L65.7,314.89 L66.7,315.15 L67.7,315.42 L68.7,315.16 L69.7,314.92 L70.7,314.62 L71.7,314.34 L72.7,314.07 L73.7,313.8 L74.7,313.71 L75.7,313.39 L76.7,313 L77.7,313.06 L78.7,313.14 L79.7,313.09 L80.7,312.92 L81.7,312.53 L82.7,312.32 L83.7,312.1 L84.7,311.79 L85.7,311.53 L86.7,311.01 L87.7,310.76 L88.7,310.79 L89.7,310.57 L90.7,310.28 L91.7,310.02 L92.7,309.95 L93.7,309.84 L94.7,309.69 L95.7,309.48 L96.7,309.48 L97.7,309.4 L98.7,309.24 L99.7,309.04 L100.7,308.66 L101.7,308.03 L102.7,307.69 L103.7,307.82 L104.7,307.83 L105.7,307.77 L106.7,307.55 L107.7,307.08 L108.7,306.9 L109.7,306.85 L110.7,306.8 L111.7,306.83 L112.7,306.63 L113.7,306.28 L114.7,306.17 L115.7,306.24 L116.7,306.13 L117.7,306.03 L118.7,305.65 L119.7,305.05 L120.7,304.92 L121.7,305.15 L122.7,305.32 L123.7,305.36 L124.7,305.28 L125.7,305 L126.7,304.58 L127.7,304.39 L128.7,304.35 L129.7,304.2 L130.7,303.97 L131.7,303.66 L132.7,303.6 L133.7,303.35 L134.7,303.14 L135.7,303.4 L136.7,303.46 L137.7,303.16 L138.7,302.91 L139.7,303.09 L140.7,303.23 L141.2,302.63 L141.7,302.05 L142.2,302.27 L142.7,302.66 L143.2,302.93 L143.7,302.98 L144.2,302.96 L144.7,303.16 L145.2,303.44 L145.7,303.59 L146.2,303.87 L146.7,303.74 L147.2,303.71 L147.7,304.11 L148.2,304.27 L148.7,304.24 L149.2,304.28 L149.7,304.22 L150.2,304.6 L150.7,305.18 L151.2,305.29 L151.7,305.42 L152.2,306 L152.7,306.44 L153.2,306.4 L153.7,306.38 L154.2,306.92 L154.7,307.71 L155.2,308.41 L155.7,308.83 L156.2,308.83 L156.7,308.99 L157.2,309.54 L157.7,310.08 L158.2,310.36 L158.7,310.59 L159.2,310.73 L159.7,311.34 L160.2,311.96 L160.7,312.53 L161.2,312.87 L161.7,313.02 L162.2,313.48 L162.7,314.04 L163.2,314.33 L163.7,314.29 L164.2,314.35 L164.7,314.9 L165.2,315.74 L165.7,315.83 L166.2,315.59 L166.7,315.63 L167.2,315.99 L167.7,316.24 L168.2,316.47 L168.7,316.41 L169.2,316.11 L169.7,315.74 L170.2,315.23 L170.7,314.86 L171.2,314.5 L171.7,314.17 L172.2,314.05 L172.7,313.88 L173.2,313.23 L173.7,312.14 L174.2,311.61 L174.7,311.31 L175.2,310.94 L175.7,310.49 L176.2,309.77 L176.7,308.77 L177.2,307.75 L177.7,306.77 L178.2,305.4 L178.7,303.74 L179.2,302.22 L179.7,300.57 L180.2,298.93 L180.7,297.3 L181.2,295.33 L181.6,293.48" fill="none" stroke="#121212" stroke-width="1.5" stroke-linejoin="round"/>
<path d="M37.7,330.95 L38.7,330.85 L39.7,330.77 L40.7,330.91 L41.7,331.11 L42.7,331.16 L43.7,330.72 L44.7,330.01 L45.7,329.57 L46.7,329.49 L47.7,329.77 L48.7,329.92 L49.7,329.3 L50.7,328.38 L51.7,328.03 L52.7,328.15 L53.7,328.38 L54.7,328.41 L55.7,328.42 L56.7,328.27 L57.7,327.73 L58.7,327.57 L59.7,327.76 L60.7,327.38 L61.7,326.59 L62.7,325.94 L63.7,325.61 L64.7,325.6 L65.7,325.96 L66.7,326.22 L67.7,326.16 L68.7,325.75 L69.7,325.35 L70.7,325.34 L71.7,325.33 L72.7,324.87 L73.7,324.72 L74.7,324.74 L75.7,324.62 L76.7,324.4 L77.7,324.34 L78.7,324.2 L79.7,323.8 L80.7,323.43 L81.7,323.16 L82.7,322.92 L83.7,322.83 L84.7,322.82 L85.7,322.93 L86.7,323.06 L87.7,322.82 L88.7,322.37 L89.7,322.17 L90.7,322.06 L91.7,321.89 L92.7,321.59 L93.7,321.27 L94.7,320.92 L95.7,320.81 L96.7,321.03 L97.7,321.09 L98.7,320.82 L99.7,320.46 L100.7,320.05 L101.7,319.53 L102.7,319.25 L103.7,319.39 L104.7,319.29 L105.7,318.92 L106.7,318.76 L107.7,318.72 L108.7,318.56 L109.7,318.79 L110.7,318.92 L111.7,318.69 L112.7,318.04 L113.7,317.59 L114.7,317.4 L115.7,317.27 L116.7,317.06 L117.7,316.93 L118.7,316.87 L119.7,316.55 L120.7,316.35 L121.7,316.29 L122.7,316.04 L123.7,315.87 L124.7,315.76 L125.7,315.44 L126.7,315.13 L127.7,315.16 L128.7,315.31 L129.7,315.31 L130.7,314.98 L131.7,314.76 L132.7,314.47 L133.7,314.26 L134.7,314.25 L135.7,314.41 L136.7,314.59 L137.7,314.52 L138.7,314.24 L139.7,314.29 L140.7,314.29 L141.2,314.05 L141.7,313.81 L142.2,313.85 L142.7,313.84 L143.2,313.79 L143.7,313.82 L144.2,314.06 L144.7,314.29 L145.2,314.26 L145.7,314.16 L146.2,314.33 L146.7,314.37 L147.2,314.21 L147.7,314.22 L148.2,314.17 L148.7,314.46 L149.2,314.89 L149.7,315.13 L150.2,315 L150.7,314.77 L151.2,314.73 L151.7,315.03 L152.2,315.54 L152.7,315.77 L153.2,315.96 L153.7,316.28 L154.2,316.46 L154.7,316.76 L155.2,317.39 L155.7,318.2 L156.2,318.54 L156.7,318.37 L157.2,318.41 L157.7,319 L158.2,319.62 L158.7,320.12 L159.2,320.52 L159.7,320.92 L160.2,321.49 L160.7,321.93 L161.2,322.1 L161.7,322.26 L162.2,322.63 L162.7,323.03 L163.2,323.22 L163.7,323.45 L164.2,323.65 L164.7,323.98 L165.2,324.53 L165.7,324.88 L166.2,325.1 L166.7,325.13 L167.2,324.97 L167.7,325.12 L168.2,325.38 L168.7,325.33 L169.2,325.07 L169.7,325.07 L170.2,325.09 L170.7,325.05 L171.2,324.82 L171.7,324.53 L172.2,324.18 L172.7,323.41 L173.2,322.61 L173.7,321.99 L174.2,321.41 L174.7,320.78 L175.2,320.07 L175.7,319.69 L176.2,319.31 L176.7,318.59 L177.2,317.61 L177.7,316.57 L178.2,315.17 L178.7,313.58 L179.2,311.94 L179.7,310.51 L180.2,309.23 L180.7,307.78 L181.2,305.61 L181.6,303.42" fill="none" stroke="#121212" stroke-width="1.5" stroke-linejoin="round"/>
<path d="M37.7,342.73 L38.7,342.45 L39.7,342.12 L40.7,341.85 L41.7,341.54 L42.7,341.13 L43.7,340.88 L44.7,341.13 L45.7,341.47 L46.7,341.31 L47.7,340.72 L48.7,340.29 L49.7,340.27 L50.7,340.33 L51.7,340.08 L52.7,339.73 L53.7,339.58 L54.7,339.45 L55.7,339.23 L56.7,338.8 L57.7,338.48 L58.7,338.55 L59.7,338.5 L60.7,338.16 L61.7,338.09 L62.7,338.06 L63.7,337.77 L64.7,337.72 L65.7,337.96 L66.7,337.83 L67.7,337.39 L68.7,337 L69.7,336.75 L70.7,336.26 L71.7,336.16 L72.7,336.39 L73.7,336.25 L74.7,335.69 L75.7,335.34 L76.7,335.12 L77.7,334.9 L78.7,335.04 L79.7,335.03 L80.7,334.8 L81.7,334.74 L82.7,334.67 L83.7,334.49 L84.7,334.39 L85.7,334.21 L86.7,333.76 L87.7,333.43 L88.7,333.3 L89.7,333.24 L90.7,333.02 L91.7,332.85 L92.7,332.71 L93.7,332.67 L94.7,332.66 L95.7,332.47 L96.7,332.38 L97.7,332.25 L98.7,331.97 L99.7,331.62 L100.7,331.46 L101.7,331.18 L102.7,330.79 L103.7,330.58 L104.7,330.44 L105.7,330.38 L106.7,330.23 L107.7,329.61 L108.7,328.97 L109.7,328.77 L110.7,328.87 L111.7,328.93 L112.7,329.03 L113.7,329.2 L114.7,329.22 L115.7,328.86 L116.7,328.42 L117.7,328.14 L118.7,328.24 L119.7,328.32 L120.7,327.9 L121.7,327.36 L122.7,327.51 L123.7,327.66 L124.7,327.19 L125.7,326.56 L126.7,326.46 L127.7,326.57 L128.7,326.36 L129.7,325.94 L130.7,325.8 L131.7,325.81 L132.7,325.71 L133.7,325.78 L134.7,325.63 L135.7,325.23 L136.7,324.85 L137.7,324.81 L138.7,324.87 L139.7,324.84 L140.7,324.87 L141.2,324.48 L141.7,324.28 L142.2,324.56 L142.7,324.83 L143.2,324.81 L143.7,324.59 L144.2,324.46 L144.7,324.34 L145.2,324.07 L145.7,324.01 L146.2,324.5 L146.7,324.76 L147.2,324.67 L147.7,324.61 L148.2,324.72 L148.7,324.84 L149.2,324.97 L149.7,324.99 L150.2,324.8 L150.7,324.86 L151.2,325.01 L151.7,325.39 L152.2,325.71 L152.7,325.64 L153.2,325.72 L153.7,326.03 L154.2,326.28 L154.7,326.19 L155.2,326.31 L155.7,326.83 L156.2,327.2 L156.7,327.57 L157.2,327.91 L157.7,328.01 L158.2,328.28 L158.7,328.75 L159.2,329.13 L159.7,329.52 L160.2,330.19 L160.7,330.69 L161.2,330.78 L161.7,330.85 L162.2,330.88 L162.7,331.3 L163.2,331.59 L163.7,331.75 L164.2,331.84 L164.7,331.86 L165.2,332.01 L165.7,332.53 L166.2,333.12 L166.7,333.22 L167.2,332.91 L167.7,332.64 L168.2,332.52 L168.7,332.68 L169.2,333.05 L169.7,332.91 L170.2,332.38 L170.7,331.85 L171.2,331.64 L171.7,331.68 L172.2,331.32 L172.7,330.71 L173.2,330.26 L173.7,329.7 L174.2,329.16 L174.7,328.48 L175.2,327.92 L175.7,327.48 L176.2,326.86 L176.7,325.97 L177.2,324.98 L177.7,324.21 L178.2,323.11 L178.7,321.57 L179.2,319.92 L179.7,318.15 L180.2,316.29 L180.7,314.36 L181.2,312.46 L181.6,310.8" fill="none" stroke="#121212" stroke-width="1.5" stroke-linejoin="round"/>
<path d="M37.7,354.25 L38.7,353.94 L39.7,353.53 L40.7,353.05 L41.7,352.73 L42.7,352.54 L43.7,352.25 L44.7,351.94 L45.7,351.84 L46.7,351.57 L47.7,351.45 L48.7,351.47 L49.7,351.51 L50.7,351.6 L51.7,351.5 L52.7,351.44 L53.7,351.14 L54.7,350.69 L55.7,350.57 L56.7,350.47 L57.7,350.09 L58.7,349.73 L59.7,349.49 L60.7,349.33 L61.7,349.21 L62.7,349.23 L63.7,349.34 L64.7,349.22 L65.7,348.84 L66.7,348.57 L67.7,348.35 L68.7,347.94 L69.7,347.67 L70.7,347.65 L71.7,347.46 L72.7,347.32 L73.7,347.2 L74.7,347.13 L75.7,346.87 L76.7,346.85 L77.7,346.74 L78.7,346.38 L79.7,346.13 L80.7,345.6 L81.7,345.27 L82.7,345.48 L83.7,345.43 L84.7,344.84 L85.7,344.3 L86.7,344.34 L87.7,344.38 L88.7,344.18 L89.7,343.83 L90.7,343.53 L91.7,343.76 L92.7,344.2 L93.7,344.05 L94.7,343.41 L95.7,343.04 L96.7,343.12 L97.7,343.15 L98.7,342.78 L99.7,342.3 L100.7,342.2 L101.7,342.33 L102.7,342.45 L103.7,342.31 L104.7,342.03 L105.7,341.74 L106.7,341.47 L107.7,341.31 L108.7,341 L109.7,340.83 L110.7,340.6 L111.7,340.07 L112.7,339.61 L113.7,339.42 L114.7,339.54 L115.7,339.53 L116.7,339.36 L117.7,339.03 L118.7,338.63 L119.7,338.63 L120.7,338.69 L121.7,338.67 L122.7,338.8 L123.7,338.68 L124.7,338.09 L125.7,337.59 L126.7,337.49 L127.7,337.57 L128.7,337.49 L129.7,337.27 L130.7,337.15 L131.7,336.98 L132.7,337 L133.7,337.01 L134.7,337.05 L135.7,336.99 L136.7,336.54 L137.7,336.24 L138.7,336.23 L139.7,336.04 L140.7,335.67 L141.2,335.62 L141.7,335.7 L142.2,335.96 L142.7,336.08 L143.2,335.84 L143.7,335.57 L144.2,335.21 L144.7,334.97 L145.2,335.39 L145.7,335.69 L146.2,335.57 L146.7,335.33 L147.2,335.28 L147.7,335.52 L148.2,335.8 L148.7,335.81 L149.2,335.56 L149.7,335.13 L150.2,335.28 L150.7,335.63 L151.2,335.59 L151.7,335.43 L152.2,335.74 L152.7,336.06 L153.2,335.89 L153.7,335.79 L154.2,335.99 L154.7,336.44 L155.2,336.9 L155.7,336.98 L156.2,336.99 L156.7,337.4 L157.2,337.6 L157.7,337.9 L158.2,338.37 L158.7,338.36 L159.2,338.23 L159.7,338.41 L160.2,338.69 L160.7,339.02 L161.2,339.56 L161.7,340.09 L162.2,340.28 L162.7,340.55 L163.2,341.06 L163.7,341.06 L164.2,341.14 L164.7,341.44 L165.2,341.69 L165.7,341.82 L166.2,342.19 L166.7,342.46 L167.2,342.16 L167.7,341.83 L168.2,341.8 L168.7,341.72 L169.2,341.69 L169.7,341.72 L170.2,341.6 L170.7,341.39 L171.2,341.16 L171.7,340.68 L172.2,340.25 L172.7,340.13 L173.2,339.89 L173.7,339.5 L174.2,338.92 L174.7,338.36 L175.2,337.43 L175.7,336.21 L176.2,335.45 L176.7,335.07 L177.2,334.46 L177.7,333.38 L178.2,332.52 L178.7,331.5 L179.2,330.01 L179.7,328.21 L180.2,326.21 L180.7,324.2 L181.2,322.07 L181.6,320.17" fill="none" stroke="#121212" stroke-width="1.5" stroke-linejoin="round"/>
<path d="M37.7,364.88 L38.7,364.45 L39.7,364.09 L40.7,363.94 L41.7,363.72 L42.7,363.25 L43.7,363.02 L44.7,363.04 L45.7,362.93 L46.7,362.55 L47.7,362.15 L48.7,362.25 L49.7,362.42 L50.7,362.22 L51.7,361.77 L52.7,361.75 L53.7,361.94 L54.7,362.01 L55.7,361.95 L56.7,361.59 L57.7,361.1 L58.7,360.89 L59.7,360.65 L60.7,360.53 L61.7,360.52 L62.7,360.11 L63.7,359.69 L64.7,359.51 L65.7,359.52 L66.7,359.69 L67.7,359.72 L68.7,359.58 L69.7,359.19 L70.7,358.83 L71.7,358.66 L72.7,358.3 L73.7,358.02 L74.7,357.95 L75.7,357.99 L76.7,357.9 L77.7,357.57 L78.7,357.32 L79.7,356.96 L80.7,356.5 L81.7,356.32 L82.7,356.43 L83.7,356.52 L84.7,356.44 L85.7,356.23 L86.7,355.92 L87.7,355.65 L88.7,355.39 L89.7,354.95 L90.7,354.62 L91.7,354.48 L92.7,354.28 L93.7,354.17 L94.7,354.08 L95.7,353.99 L96.7,353.86 L97.7,353.59 L98.7,353.28 L99.7,353.05 L100.7,353.05 L101.7,352.94 L102.7,352.58 L103.7,352.07 L104.7,352.05 L105.7,352.01 L106.7,351.67 L107.7,351.72 L108.7,351.83 L109.7,351.6 L110.7,351.28 L111.7,351.26 L112.7,351.16 L113.7,350.96 L114.7,350.94 L115.7,350.78 L116.7,350.51 L117.7,350.34 L118.7,350.32 L119.7,350.29 L120.7,350.21 L121.7,349.87 L122.7,349.46 L123.7,349.35 L124.7,349.33 L125.7,349.13 L126.7,349.01 L127.7,348.8 L128.7,348.28 L129.7,347.85 L130.7,347.99 L131.7,348.12 L132.7,347.95 L133.7,347.82 L134.7,347.84 L135.7,347.56 L136.7,347.19 L137.7,347.05 L138.7,346.97 L139.7,346.74 L140.7,346.88 L141.2,347.44 L141.7,347.62 L142.2,347.51 L142.7,347.32 L143.2,346.89 L143.7,346.6 L144.2,346.91 L144.7,347.07 L145.2,346.68 L145.7,346.4 L146.2,346.77 L146.7,346.93 L147.2,346.66 L147.7,346.62 L148.2,346.73 L148.7,346.77 L149.2,346.84 L149.7,346.82 L150.2,346.75 L150.7,346.49 L151.2,346.25 L151.7,346.69 L152.2,347.42 L152.7,347.5 L153.2,347.52 L153.7,347.68 L154.2,347.73 L154.7,347.47 L155.2,347.19 L155.7,347.04 L156.2,347.01 L156.7,347.39 L157.2,347.63 L157.7,347.57 L158.2,348 L158.7,348.58 L159.2,348.72 L159.7,348.43 L160.2,348.22 L160.7,348.24 L161.2,348.72 L161.7,349.5 L162.2,349.9 L162.7,349.87 L163.2,350.09 L163.7,350.22 L164.2,350.32 L164.7,350.37 L165.2,350.03 L165.7,350.24 L166.2,350.88 L166.7,351.48 L167.2,351.73 L167.7,351.59 L168.2,351.25 L168.7,351.17 L169.2,351.14 L169.7,350.87 L170.2,350.51 L170.7,350.12 L171.2,349.78 L171.7,349.71 L172.2,349.77 L172.7,349.18 L173.2,348.56 L173.7,348.49 L174.2,348.4 L174.7,348.24 L175.2,347.92 L175.7,347.11 L176.2,346.19 L176.7,345.41 L177.2,344.7 L177.7,343.98 L178.2,343.44 L178.7,342.7 L179.2,341.08 L179.7,339.38 L180.2,338.04 L180.7,336.27 L181.2,334.07 L181.6,332.14" fill="none" stroke="#121212" stroke-width="1.5" stroke-linejoin="round"/>
<path d="M37.7,376.29 L38.7,376.17 L39.7,376.1 L40.7,375.92 L41.7,375.54 L42.7,374.99 L43.7,374.63 L44.7,374.52 L45.7,374.62 L46.7,374.47 L47.7,374.2 L48.7,374.34 L49.7,374.52 L50.7,374.01 L51.7,373.27 L52.7,373.06 L53.7,373.06 L54.7,372.92 L55.7,372.86 L56.7,372.76 L57.7,372.34 L58.7,371.94 L59.7,371.88 L60.7,371.73 L61.7,371.42 L62.7,370.97 L63.7,370.54 L64.7,370.37 L65.7,370.26 L66.7,369.9 L67.7,369.72 L68.7,369.93 L69.7,369.78 L70.7,369.58 L71.7,369.4 L72.7,369.15 L73.7,369.26 L74.7,369.18 L75.7,369.01 L76.7,368.8 L77.7,368.66 L78.7,368.45 L79.7,367.99 L80.7,367.43 L81.7,367.31 L82.7,367.64 L83.7,367.78 L84.7,367.5 L85.7,367.31 L86.7,367.2 L87.7,367.08 L88.7,366.76 L89.7,366.28 L90.7,366.13 L91.7,365.99 L92.7,365.69 L93.7,365.35 L94.7,365.07 L95.7,364.91 L96.7,365.17 L97.7,365.71 L98.7,365.61 L99.7,365.06 L100.7,364.51 L101.7,363.74 L102.7,363.08 L103.7,363.15 L104.7,363.68 L105.7,363.89 L106.7,363.47 L107.7,362.97 L108.7,362.69 L109.7,362.38 L110.7,362.18 L111.7,362.18 L112.7,362.06 L113.7,361.78 L114.7,361.54 L115.7,361.53 L116.7,361.76 L117.7,361.87 L118.7,361.74 L119.7,361.49 L120.7,360.9 L121.7,360.54 L122.7,360.34 L123.7,360.31 L124.7,360.4 L125.7,360.45 L126.7,360.24 L127.7,359.69 L128.7,359.31 L129.7,359.31 L130.7,359.31 L131.7,359.26 L132.7,359.41 L133.7,359.27 L134.7,358.79 L135.7,358.69 L136.7,358.54 L137.7,358.11 L138.7,358.03 L139.7,357.93 L140.7,357.88 L141.2,358.15 L141.7,358.11 L142.2,357.94 L142.7,358.02 L143.2,358.15 L143.7,358.16 L144.2,358.03 L144.7,357.72 L145.2,357.39 L145.7,357.31 L146.2,357.2 L146.7,357.18 L147.2,357.6 L147.7,357.46 L148.2,356.99 L148.7,356.91 L149.2,357.24 L149.7,357.37 L150.2,357.25 L150.7,357.13 L151.2,357.06 L151.7,357.12 L152.2,357.26 L152.7,357.41 L153.2,357.59 L153.7,357.63 L154.2,357.71 L154.7,357.94 L155.2,358.14 L155.7,358.09 L156.2,357.91 L156.7,357.72 L157.2,357.65 L157.7,357.86 L158.2,358.16 L158.7,358.16 L159.2,357.91 L159.7,357.68 L160.2,357.85 L160.7,358.42 L161.2,358.79 L161.7,358.65 L162.2,358.4 L162.7,358.54 L163.2,358.71 L163.7,358.76 L164.2,358.9 L164.7,358.88 L165.2,358.73 L165.7,358.85 L166.2,359.23 L166.7,359.25 L167.2,358.98 L167.7,359.03 L168.2,359.37 L168.7,359.46 L169.2,359.43 L169.7,359.42 L170.2,359.07 L170.7,358.84 L171.2,358.95 L171.7,358.86 L172.2,358.66 L172.7,358.32 L173.2,357.85 L173.7,357.63 L174.2,357.74 L174.7,357.72 L175.2,357.36 L175.7,357.09 L176.2,356.51 L176.7,355.8 L177.2,355.37 L177.7,354.73 L178.2,353.6 L178.7,352.55 L179.2,351.81 L179.7,350.79 L180.2,349.44 L180.7,347.76 L181.2,346.08 L181.6,344.54" fill="none" stroke="#121212" stroke-width="1.5" stroke-linejoin="round"/>
<path d="M37.7,386.39 L38.7,386.49 L39.7,386.44 L40.7,386.12 L41.7,385.84 L42.7,385.68 L43.7,385.52 L44.7,385.68 L45.7,385.91 L46.7,385.95 L47.7,385.66 L48.7,385.25 L49.7,384.89 L50.7,384.51 L51.7,384.32 L52.7,384.48 L53.7,384.29 L54.7,383.8 L55.7,383.61 L56.7,383.76 L57.7,383.5 L58.7,383.12 L59.7,383.26 L60.7,383.34 L61.7,382.94 L62.7,382.51 L63.7,382.15 L64.7,382.11 L65.7,382.5 L66.7,382.62 L67.7,382.03 L68.7,381.53 L69.7,381.34 L70.7,381.16 L71.7,381.07 L72.7,380.77 L73.7,380.19 L74.7,379.91 L75.7,380.03 L76.7,380.16 L77.7,380.06 L78.7,379.75 L79.7,379.28 L80.7,379.08 L81.7,378.92 L82.7,378.81 L83.7,378.6 L84.7,378.23 L85.7,377.96 L86.7,377.79 L87.7,377.71 L88.7,377.5 L89.7,377.36 L90.7,377.3 L91.7,377.23 L92.7,377.17 L93.7,376.98 L94.7,376.85 L95.7,376.53 L96.7,376.08 L97.7,375.83 L98.7,375.65 L99.7,375.59 L100.7,375.72 L101.7,375.81 L102.7,375.63 L103.7,375.48 L104.7,374.97 L105.7,374.2 L106.7,373.85 L107.7,373.91 L108.7,373.86 L109.7,374.08 L110.7,374.18 L111.7,373.88 L112.7,373.48 L113.7,373.25 L114.7,373.1 L115.7,372.83 L116.7,372.6 L117.7,372.59 L118.7,372.59 L119.7,372.3 L120.7,371.96 L121.7,371.55 L122.7,371.24 L123.7,371.12 L124.7,371.28 L125.7,371.41 L126.7,371.23 L127.7,370.97 L128.7,370.85 L129.7,370.69 L130.7,370.61 L131.7,370.47 L132.7,370 L133.7,369.37 L134.7,369.37 L135.7,369.77 L136.7,370.01 L137.7,370.04 L138.7,369.62 L139.7,369.4 L140.7,369.59 L141.2,369.73 L141.7,369.72 L142.2,369.42 L142.7,369.12 L143.2,368.97 L143.7,368.71 L144.2,368.55 L144.7,368.56 L145.2,368.71 L145.7,368.8 L146.2,368.69 L146.7,368.63 L147.2,368.57 L147.7,368.34 L148.2,367.96 L148.7,368.11 L149.2,368.32 L149.7,368.38 L150.2,368.63 L150.7,368.82 L151.2,368.95 L151.7,368.93 L152.2,368.69 L152.7,368.33 L153.2,368.1 L153.7,368.15 L154.2,368.27 L154.7,368.43 L155.2,368.73 L155.7,368.95 L156.2,368.64 L156.7,368.56 L157.2,368.51 L157.7,368.57 L158.2,368.71 L158.7,368.56 L159.2,368.41 L159.7,368.51 L160.2,368.39 L160.7,368.21 L161.2,368.36 L161.7,368.43 L162.2,368.59 L162.7,368.9 L163.2,369.05 L163.7,369.24 L164.2,369.51 L164.7,369.32 L165.2,369.02 L165.7,368.96 L166.2,368.7 L166.7,368.27 L167.2,368.25 L167.7,368.75 L168.2,369.31 L168.7,369.21 L169.2,368.94 L169.7,368.95 L170.2,369.15 L170.7,369.28 L171.2,369.43 L171.7,369.42 L172.2,369.22 L172.7,368.83 L173.2,368.5 L173.7,368.18 L174.2,367.8 L174.7,367.39 L175.2,367.18 L175.7,367.03 L176.2,367 L176.7,367.01 L177.2,366.72 L177.7,366.3 L178.2,365.72 L178.7,364.95 L179.2,363.92 L179.7,362.69 L180.2,361.46 L180.7,359.94 L181.2,358.31 L181.6,357.03" fill="none" stroke="#121212" stroke-width="1.5" stroke-linejoin="round"/>
<path d="M37.7,398.67 L38.7,398.22 L39.7,398.14 L40.7,397.83 L41.7,397.34 L42.7,397.19 L43.7,397.13 L44.7,396.87 L45.7,396.42 L46.7,396.11 L47.7,396.22 L48.7,396.39 L49.7,396.33 L50.7,396.14 L51.7,395.78 L52.7,395.29 L53.7,395.13 L54.7,395.19 L55.7,395.14 L56.7,394.9 L57.7,394.71 L58.7,394.62 L59.7,394.34 L60.7,393.74 L61.7,393.83 L62.7,394.09 L63.7,393.53 L64.7,392.83 L65.7,392.59 L66.7,392.37 L67.7,392.37 L68.7,392.65 L69.7,392.81 L70.7,392.6 L71.7,392.36 L72.7,392.12 L73.7,391.67 L74.7,391.24 L75.7,391.12 L76.7,391.03 L77.7,390.74 L78.7,390.4 L79.7,390.08 L80.7,389.74 L81.7,389.65 L82.7,389.71 L83.7,389.7 L84.7,389.76 L85.7,389.8 L86.7,389.48 L87.7,388.94 L88.7,388.46 L89.7,388.31 L90.7,388.33 L91.7,388.19 L92.7,388.01 L93.7,387.78 L94.7,387.72 L95.7,387.73 L96.7,387.62 L97.7,387.26 L98.7,387 L99.7,386.96 L100.7,387 L101.7,386.93 L102.7,386.46 L103.7,386.04 L104.7,385.93 L105.7,385.95 L106.7,385.84 L107.7,385.57 L108.7,385.46 L109.7,385.81 L110.7,385.67 L111.7,384.93 L112.7,384.38 L113.7,384.3 L114.7,384.03 L115.7,383.56 L116.7,383.42 L117.7,383.42 L118.7,383.69 L119.7,383.86 L120.7,383.5 L121.7,383.08 L122.7,383.16 L123.7,383.06 L124.7,382.74 L125.7,382.69 L126.7,382.62 L127.7,382.2 L128.7,381.86 L129.7,381.72 L130.7,381.56 L131.7,381.26 L132.7,381.29 L133.7,381.17 L134.7,380.92 L135.7,380.47 L136.7,380.28 L137.7,380.4 L138.7,380.41 L139.7,380.18 L140.7,380.18 L141.2,380.29 L141.7,380.39 L142.2,380.28 L142.7,380.21 L143.2,380.29 L143.7,380.36 L144.2,380.15 L144.7,380.16 L145.2,380.35 L145.7,380.18 L146.2,379.9 L146.7,379.62 L147.2,379.34 L147.7,379.11 L148.2,379.21 L148.7,379.14 L149.2,378.93 L149.7,379.12 L150.2,379.56 L150.7,379.53 L151.2,379.4 L151.7,379.55 L152.2,379.39 L152.7,379.24 L153.2,379.15 L153.7,378.84 L154.2,378.7 L154.7,379.06 L155.2,379.53 L155.7,379.47 L156.2,379.22 L156.7,379.38 L157.2,379.46 L157.7,379.42 L158.2,379.35 L158.7,379.19 L159.2,378.9 L159.7,378.77 L160.2,378.87 L160.7,379.07 L161.2,379.18 L161.7,379.21 L162.2,379.35 L162.7,379.19 L163.2,379.14 L163.7,379.34 L164.2,379.33 L164.7,379.03 L165.2,378.73 L165.7,378.6 L166.2,378.82 L166.7,379.4 L167.2,379.81 L167.7,379.85 L168.2,379.59 L168.7,379.42 L169.2,379.42 L169.7,379.33 L170.2,379.16 L170.7,379.24 L171.2,379.14 L171.7,378.44 L172.2,378.04 L172.7,378.24 L173.2,378.62 L173.7,378.65 L174.2,378.33 L174.7,378.09 L175.2,377.81 L175.7,377.44 L176.2,377.01 L176.7,376.67 L177.2,376.46 L177.7,376.27 L178.2,375.56 L178.7,374.33 L179.2,373.43 L179.7,372.62 L180.2,371.63 L180.7,370.28 L181.2,368.55 L181.6,366.93" fill="none" stroke="#121212" stroke-width="1.5" stroke-linejoin="round"/>
<path d="M37.7,408.58 L38.7,408.7 L39.7,409.11 L40.7,409.02 L41.7,408.64 L42.7,408.52 L43.7,408.1 L44.7,407.55 L45.7,407.53 L46.7,407.53 L47.7,407.44 L48.7,407.03 L49.7,406.55 L50.7,406.34 L51.7,406.5 L52.7,406.52 L53.7,406.07 L54.7,405.94 L55.7,406.46 L56.7,406.54 L57.7,405.95 L58.7,405.2 L59.7,404.65 L60.7,404.57 L61.7,404.89 L62.7,404.89 L63.7,404.43 L64.7,404.16 L65.7,404.02 L66.7,403.98 L67.7,404.13 L68.7,404.11 L69.7,403.71 L70.7,403.56 L71.7,403.38 L72.7,402.93 L73.7,402.49 L74.7,402.3 L75.7,402.32 L76.7,402.06 L77.7,401.76 L78.7,401.57 L79.7,401.25 L80.7,401.07 L81.7,401.22 L82.7,401.36 L83.7,401.09 L84.7,400.61 L85.7,400.03 L86.7,399.94 L87.7,400.22 L88.7,399.89 L89.7,399.44 L90.7,399.43 L91.7,399.3 L92.7,398.83 L93.7,398.68 L94.7,398.71 L95.7,398.67 L96.7,398.79 L97.7,398.76 L98.7,398.41 L99.7,397.99 L100.7,397.7 L101.7,397.49 L102.7,397.41 L103.7,397.34 L104.7,397.31 L105.7,397.51 L106.7,397.48 L107.7,396.93 L108.7,396.63 L109.7,396.57 L110.7,396.31 L111.7,395.91 L112.7,395.74 L113.7,395.82 L114.7,395.7 L115.7,395.34 L116.7,395.02 L117.7,395.01 L118.7,394.93 L119.7,394.74 L120.7,394.75 L121.7,394.54 L122.7,393.92 L123.7,393.59 L124.7,393.23 L125.7,393.01 L126.7,393.15 L127.7,393.24 L128.7,392.92 L129.7,392.41 L130.7,392.14 L131.7,392.2 L132.7,392.17 L133.7,391.92 L134.7,391.9 L135.7,392.1 L136.7,391.86 L137.7,391.57 L138.7,391.39 L139.7,391.3 L140.7,391.3 L141.2,391.33 L141.7,391.21 L142.2,390.88 L142.7,390.96 L143.2,391.4 L143.7,391.46 L144.2,391.46 L144.7,391.48 L145.2,391.25 L145.7,390.78 L146.2,390.32 L146.7,390.38 L147.2,390.88 L147.7,391.06 L148.2,390.69 L148.7,390.05 L149.2,389.73 L149.7,389.86 L150.2,390.09 L150.7,390.3 L151.2,390.47 L151.7,390.64 L152.2,390.45 L152.7,390.38 L153.2,390.55 L153.7,390.47 L154.2,390.37 L154.7,390.66 L155.2,390.7 L155.7,390.22 L156.2,389.89 L156.7,389.67 L157.2,389.71 L157.7,390.19 L158.2,390.56 L158.7,390.54 L159.2,390.14 L159.7,389.72 L160.2,389.73 L160.7,389.71 L161.2,389.59 L161.7,389.74 L162.2,390.09 L162.7,390.36 L163.2,390.53 L163.7,390.18 L164.2,389.83 L164.7,390.15 L165.2,390.35 L165.7,390.06 L166.2,389.91 L166.7,390.02 L167.2,389.76 L167.7,389.44 L168.2,389.14 L168.7,389.07 L169.2,389.36 L169.7,389.94 L170.2,390.06 L170.7,389.61 L171.2,389.3 L171.7,389.39 L172.2,389.33 L172.7,388.95 L173.2,388.86 L173.7,389.11 L174.2,389.26 L174.7,389.1 L175.2,388.67 L175.7,387.97 L176.2,387.54 L176.7,387.57 L177.2,387.38 L177.7,387.05 L178.2,386.67 L178.7,386.17 L179.2,385.57 L179.7,384.97 L180.2,384.03 L180.7,382.92 L181.2,381.7 L181.6,380.58" fill="none" stroke="#121212" stroke-width="1.5" stroke-linejoin="round"/>
<path d="M37.7,420.07 L38.7,419.68 L39.7,419.82 L40.7,420.17 L41.7,420.03 L42.7,419.7 L43.7,419.32 L44.7,418.85 L45.7,418.55 L46.7,418.58 L47.7,418.78 L48.7,418.82 L49.7,418.78 L50.7,418.62 L51.7,418.4 L52.7,417.87 L53.7,417.5 L54.7,417.6 L55.7,417.53 L56.7,417.29 L57.7,416.89 L58.7,416.5 L59.7,416.15 L60.7,415.71 L61.7,415.39 L62.7,415.27 L63.7,415.14 L64.7,415 L65.7,415.13 L66.7,415.44 L67.7,415.7 L68.7,415.49 L69.7,414.96 L70.7,414.6 L71.7,414.3 L72.7,414.07 L73.7,413.79 L74.7,413.48 L75.7,413.2 L76.7,412.96 L77.7,412.93 L78.7,412.71 L79.7,412.41 L80.7,412.37 L81.7,412.36 L82.7,412.18 L83.7,412.18 L84.7,412.23 L85.7,411.99 L86.7,411.45 L87.7,411.27 L88.7,411.43 L89.7,411.44 L90.7,411.12 L91.7,410.62 L92.7,410.11 L93.7,410.12 L94.7,410.35 L95.7,410.3 L96.7,410.12 L97.7,409.54 L98.7,409 L99.7,408.79 L100.7,408.99 L101.7,409.2 L102.7,409.19 L103.7,408.7 L104.7,408.07 L105.7,407.71 L106.7,407.83 L107.7,408.05 L108.7,408.06 L109.7,407.93 L110.7,407.61 L111.7,407.25 L112.7,407 L113.7,406.65 L114.7,406.45 L115.7,406.59 L116.7,406.31 L117.7,405.87 L118.7,405.83 L119.7,405.91 L120.7,405.89 L121.7,405.39 L122.7,404.72 L123.7,404.9 L124.7,404.99 L125.7,404.37 L126.7,403.96 L127.7,404.15 L128.7,404.25 L129.7,403.98 L130.7,403.57 L131.7,403.49 L132.7,403.68 L133.7,403.94 L134.7,403.97 L135.7,403.4 L136.7,402.65 L137.7,402.37 L138.7,402.66 L139.7,402.66 L140.7,402.39 L141.2,402.27 L141.7,402.21 L142.2,402.02 L142.7,402.14 L143.2,402.35 L143.7,402.5 L144.2,402.54 L144.7,402.33 L145.2,402.21 L145.7,402.04 L146.2,401.69 L146.7,401.72 L147.2,401.97 L147.7,402.03 L148.2,401.9 L148.7,401.93 L149.2,401.71 L149.7,401.19 L150.2,400.93 L150.7,401.09 L151.2,401.48 L151.7,401.77 L152.2,401.9 L152.7,401.82 L153.2,401.7 L153.7,401.85 L154.2,401.91 L154.7,401.76 L155.2,401.47 L155.7,401.2 L156.2,401.13 L156.7,400.95 L157.2,400.87 L157.7,401.07 L158.2,401.26 L158.7,401.23 L159.2,401.06 L159.7,400.98 L160.2,401.01 L160.7,400.86 L161.2,400.82 L161.7,401.21 L162.2,401.46 L162.7,401.18 L163.2,401.13 L163.7,401.58 L164.2,401.7 L164.7,401.32 L165.2,401.18 L165.7,401.55 L166.2,401.9 L166.7,401.69 L167.2,401.42 L167.7,401 L168.2,400.45 L168.7,400.3 L169.2,400.51 L169.7,400.9 L170.2,401.2 L170.7,401.3 L171.2,401.05 L171.7,400.86 L172.2,400.83 L172.7,401.01 L173.2,401.22 L173.7,401.09 L174.2,400.96 L174.7,400.66 L175.2,400.18 L175.7,399.9 L176.2,399.61 L176.7,399.35 L177.2,399.06 L177.7,398.67 L178.2,398.33 L178.7,398.02 L179.2,397.4 L179.7,396.84 L180.2,396.19 L180.7,395.17 L181.2,394.01 L181.6,393.02" fill="none" stroke="#121212" stroke-width="1.5" stroke-linejoin="round"/>
<path d="M37.7,432.1 L38.7,431.7 L39.7,431.26 L40.7,431.17 L41.7,430.68 L42.7,430.01 L43.7,429.73 L44.7,429.63 L45.7,429.52 L46.7,429.25 L47.7,429.2 L48.7,429.33 L49.7,429.19 L50.7,428.87 L51.7,428.72 L52.7,428.65 L53.7,428.53 L54.7,428.36 L55.7,428.21 L56.7,427.95 L57.7,427.47 L58.7,427.32 L59.7,427.31 L60.7,427.09 L61.7,426.85 L62.7,426.78 L63.7,426.89 L64.7,426.86 L65.7,426.49 L66.7,426.18 L67.7,425.98 L68.7,425.55 L69.7,425.17 L70.7,425.19 L71.7,425.13 L72.7,425.02 L73.7,425 L74.7,424.71 L75.7,424.1 L76.7,423.52 L77.7,423.46 L78.7,423.73 L79.7,423.86 L80.7,423.79 L81.7,423.52 L82.7,423.03 L83.7,422.6 L84.7,422.44 L85.7,422.41 L86.7,422.34 L87.7,422.21 L88.7,421.72 L89.7,421.36 L90.7,421.33 L91.7,421.39 L92.7,421.53 L93.7,421.27 L94.7,421 L95.7,420.73 L96.7,420.26 L97.7,419.81 L98.7,419.85 L99.7,420.38 L100.7,420.7 L101.7,420.43 L102.7,419.78 L103.7,419.56 L104.7,419.52 L105.7,419.37 L106.7,419.14 L107.7,419.12 L108.7,419.11 L109.7,419 L110.7,418.81 L111.7,418.52 L112.7,418.31 L113.7,417.99 L114.7,417.58 L115.7,416.95 L116.7,416.8 L117.7,416.85 L118.7,416.97 L119.7,417.1 L120.7,416.97 L121.7,416.77 L122.7,416.48 L123.7,415.88 L124.7,415.77 L125.7,415.97 L126.7,415.58 L127.7,415.02 L128.7,414.94 L129.7,415.06 L130.7,415.34 L131.7,415.25 L132.7,414.91 L133.7,414.72 L134.7,414.51 L135.7,414.49 L136.7,414.34 L137.7,413.87 L138.7,413.42 L139.7,413.14 L140.7,412.87 L141.2,412.88 L141.7,413.08 L142.2,413.31 L142.7,412.99 L143.2,412.76 L143.7,413.15 L144.2,413.39 L144.7,413.52 L145.2,413.79 L145.7,413.64 L146.2,413.13 L146.7,412.53 L147.2,412.29 L147.7,412.8 L148.2,413.07 L148.7,412.72 L149.2,412.42 L149.7,412.38 L150.2,412.38 L150.7,412.7 L151.2,413.14 L151.7,413.27 L152.2,413.06 L152.7,412.95 L153.2,413.07 L153.7,413.02 L154.2,412.54 L154.7,412.11 L155.2,411.97 L155.7,411.94 L156.2,412.08 L156.7,412.36 L157.2,412.55 L157.7,412.55 L158.2,412.45 L158.7,412.43 L159.2,412.61 L159.7,412.82 L160.2,412.92 L160.7,412.83 L161.2,412.52 L161.7,412.52 L162.2,412.75 L162.7,412.65 L163.2,412.45 L163.7,412.39 L164.2,412.4 L164.7,412.14 L165.2,411.94 L165.7,412.02 L166.2,412.18 L166.7,412.3 L167.2,412.22 L167.7,412.15 L168.2,412.14 L168.7,412.14 L169.2,412.12 L169.7,412.08 L170.2,411.77 L170.7,411.68 L171.2,411.82 L171.7,412.03 L172.2,412.06 L172.7,411.94 L173.2,411.65 L173.7,411.33 L174.2,411.17 L174.7,411.2 L175.2,411.25 L175.7,411.33 L176.2,411.36 L176.7,411.18 L177.2,410.67 L177.7,410.08 L178.2,409.73 L178.7,409.66 L179.2,409.62 L179.7,409.36 L180.2,408.76 L180.7,408.15 L181.2,407.13 L181.6,405.79" fill="none" stroke="#121212" stroke-width="1.5" stroke-linejoin="round"/>
<line x1="178.5" y1="183.5" x2="178.5" y2="415" stroke="#111" stroke-width="1.1" />
<polygon points="175.8,413 181,413 178.4,424.3" fill="#111" stroke="none" stroke-width="0" />
<rect x="160" y="172" width="25" height="11" fill="#fff" opacity="0"/>
<text x="161.8" y="181" font-size="10.4" text-anchor="start" fill="#111" stroke="#111" stroke-width="0.22" font-weight="normal" >30 K</text>
<text x="155.8" y="435.4" font-size="11.1" text-anchor="start" fill="#111" stroke="#111" stroke-width="0.22" font-weight="normal" >240 K</text>
<rect x="40.8" y="95.4" width="47.5" height="62.1" fill="#fff" stroke="#1a1a1a" stroke-width="1.3"/>
<text x="43.6" y="108.4" font-size="11.3" text-anchor="start" fill="#111" stroke="#111" stroke-width="0.22" font-weight="normal" >Bi2212</text>
<text x="43.6" y="121.7" font-size="11.3" text-anchor="start" fill="#111" stroke="#111" stroke-width="0.22" font-weight="normal" >OP98</text>
<text x="43.6" y="134.8" font-size="11.3" text-anchor="start" fill="#111" stroke="#111" stroke-width="0.22" font-weight="normal" >p~0.160</text>
<text x="43.6" y="152.4" font-size="11.3" text-anchor="start" fill="#111" stroke="#111" stroke-width="0.22" font-weight="normal" >AN</text>
<text x="60.7" y="144" font-size="5.8" text-anchor="start" fill="#111" stroke="#111" stroke-width="0.22" font-weight="normal" >+</text>
<rect x="40.1" y="256.9" width="17.6" height="18.4" fill="#fff" stroke="#f0b5c8" stroke-width="0.9"/>
<text x="43.7" y="270.4" font-size="11" fill="#c2a2aa">Tc</text>
<rect x="33.4" y="86" width="152.4" height="360.8" fill="none" stroke="#000" stroke-width="1.4"/>
<text x="233.7" y="28" font-size="14.2" text-anchor="start" fill="#111" stroke="#111" stroke-width="0.35" font-weight="bold" >b</text>
<line x1="309.7" y1="46.5" x2="309.7" y2="151.5" stroke="#d98aa8" stroke-width="0.9" stroke-dasharray="1 1.3"/>
<line x1="262" y1="42.5" x2="269.6" y2="42.5" stroke="#1a1a1a" stroke-width="1.1" />
<line x1="380.5" y1="42.5" x2="372.9" y2="42.5" stroke="#1a1a1a" stroke-width="1.1" />
<line x1="262" y1="66.15" x2="269.6" y2="66.15" stroke="#1a1a1a" stroke-width="1.1" />
<line x1="380.5" y1="66.15" x2="372.9" y2="66.15" stroke="#1a1a1a" stroke-width="1.1" />
<line x1="262" y1="89.8" x2="269.6" y2="89.8" stroke="#1a1a1a" stroke-width="1.1" />
<line x1="380.5" y1="89.8" x2="372.9" y2="89.8" stroke="#1a1a1a" stroke-width="1.1" />
<line x1="262" y1="113.45" x2="269.6" y2="113.45" stroke="#1a1a1a" stroke-width="1.1" />
<line x1="380.5" y1="113.45" x2="372.9" y2="113.45" stroke="#1a1a1a" stroke-width="1.1" />
<line x1="262" y1="137.1" x2="269.6" y2="137.1" stroke="#1a1a1a" stroke-width="1.1" />
<line x1="380.5" y1="137.1" x2="372.9" y2="137.1" stroke="#1a1a1a" stroke-width="1.1" />
<text x="257.6" y="46.6" font-size="10.4" text-anchor="end" fill="#222" stroke="#222" stroke-width="0.22" font-weight="normal" >0.120</text>
<text x="257.6" y="70.25" font-size="10.4" text-anchor="end" fill="#222" stroke="#222" stroke-width="0.22" font-weight="normal" >0.122</text>
<text x="257.6" y="93.9" font-size="10.4" text-anchor="end" fill="#222" stroke="#222" stroke-width="0.22" font-weight="normal" >0.124</text>
<text x="257.6" y="117.55" font-size="10.4" text-anchor="end" fill="#222" stroke="#222" stroke-width="0.22" font-weight="normal" >0.126</text>
<text x="257.6" y="141.2" font-size="10.4" text-anchor="end" fill="#222" stroke="#222" stroke-width="0.22" font-weight="normal" >0.128</text>
<text x="218" y="89.3" font-size="10.5" text-anchor="middle" fill="#222" stroke="#222" stroke-width="0.22" font-weight="normal" transform="rotate(-90 218.0 89.3)">1st Moment (eV)</text>
<text x="288.4" y="43.4" font-size="10.4" text-anchor="start" fill="#111" stroke="#111" stroke-width="0.22" font-weight="normal" >[0,0.25] eV</text>
<text x="296.4" y="100.4" font-size="11.4" text-anchor="start" fill="#dc98b4" stroke="#dc98b4" stroke-width="0.22" font-weight="normal" >Tc</text>
<polygon points="276.25,123.61 279.6,117.58 282.95,123.61" fill="#fff" stroke="#111" stroke-width="0.9" />
<polygon points="289.45,119.81 292.8,113.78 296.15,119.81" fill="#fff" stroke="#111" stroke-width="0.9" />
<polygon points="302.65,130.51 306,124.48 309.35,130.51" fill="#fff" stroke="#111" stroke-width="0.9" />
<polygon points="311.45,109.52 314.8,103.48 318.15,109.52" fill="#fff" stroke="#111" stroke-width="0.9" />
<polygon points="315.85,105.42 319.2,99.39 322.55,105.42" fill="#fff" stroke="#111" stroke-width="0.9" />
<polygon points="276.25,121.31 279.6,115.28 282.95,121.31" fill="#111" stroke="#111" stroke-width="0.3" />
<polygon points="280.65,118.31 284,112.28 287.35,118.31" fill="#111" stroke="#111" stroke-width="0.3" />
<polygon points="285.05,116.72 288.4,110.69 291.75,116.72" fill="#111" stroke="#111" stroke-width="0.3" />
<polygon points="289.45,117.52 292.8,111.48 296.15,117.52" fill="#111" stroke="#111" stroke-width="0.3" />
<polygon points="293.85,118.31 297.2,112.28 300.55,118.31" fill="#111" stroke="#111" stroke-width="0.3" />
<polygon points="298.25,121.31 301.6,115.28 304.95,121.31" fill="#111" stroke="#111" stroke-width="0.3" />
<polygon points="302.65,127.52 306,121.48 309.35,127.52" fill="#111" stroke="#111" stroke-width="0.3" />
<polygon points="307.05,121.31 310.4,115.28 313.75,121.31" fill="#111" stroke="#111" stroke-width="0.3" />
<polygon points="311.45,112.31 314.8,106.28 318.15,112.31" fill="#111" stroke="#111" stroke-width="0.3" />
<polygon points="315.85,101.81 319.2,95.78 322.55,101.81" fill="#111" stroke="#111" stroke-width="0.3" />
<polygon points="320.25,92.72 323.6,86.69 326.95,92.72" fill="#111" stroke="#111" stroke-width="0.3" />
<polygon points="324.65,83.31 328,77.28 331.35,83.31" fill="#111" stroke="#111" stroke-width="0.3" />
<polygon points="329.05,76.42 332.4,70.39 335.75,76.42" fill="#111" stroke="#111" stroke-width="0.3" />
<polygon points="333.45,69.22 336.8,63.19 340.15,69.22" fill="#111" stroke="#111" stroke-width="0.3" />
<polygon points="337.85,65.11 341.2,59.09 344.55,65.11" fill="#111" stroke="#111" stroke-width="0.3" />
<polygon points="342.25,59.41 345.6,53.38 348.95,59.41" fill="#111" stroke="#111" stroke-width="0.3" />
<polygon points="346.65,57.41 350,51.38 353.35,57.41" fill="#111" stroke="#111" stroke-width="0.3" />
<polygon points="351.05,54.31 354.4,48.28 357.75,54.31" fill="#111" stroke="#111" stroke-width="0.3" />
<polygon points="355.45,50.22 358.8,44.19 362.15,50.22" fill="#111" stroke="#111" stroke-width="0.3" />
<polygon points="359.85,48.22 363.2,42.19 366.55,48.22" fill="#111" stroke="#111" stroke-width="0.3" />
<polygon points="364.25,50.22 367.6,44.19 370.95,50.22" fill="#111" stroke="#111" stroke-width="0.3" />
<polygon points="368.65,50.22 372,44.19 375.35,50.22" fill="#111" stroke="#111" stroke-width="0.3" />
<polygon points="341.2,122.93 343.9,118.07 346.6,122.93" fill="#fff" stroke="#111" stroke-width="0.9" />
<text x="352" y="124.6" font-size="10.4" text-anchor="start" fill="#111" stroke="#111" stroke-width="0.22" font-weight="normal" >AN</text>
<text x="366.6" y="117" font-size="6" text-anchor="start" fill="#111" stroke="#111" stroke-width="0.22" font-weight="normal" >-</text>
<polygon points="341.1,139.12 343.9,134.08 346.7,139.12" fill="#111" stroke="#111" stroke-width="0.3" />
<text x="352" y="140.7" font-size="10.4" text-anchor="start" fill="#111" stroke="#111" stroke-width="0.22" font-weight="normal" >AN</text>
<text x="366.4" y="133.2" font-size="6" text-anchor="start" fill="#111" stroke="#111" stroke-width="0.22" font-weight="normal" >+</text>
<line x1="266.4" y1="26.8" x2="266.4" y2="34.1" stroke="#1a1a1a" stroke-width="1.1" />
<line x1="266.4" y1="152.4" x2="266.4" y2="145.1" stroke="#1a1a1a" stroke-width="1.1" />
<line x1="275.2" y1="26.8" x2="275.2" y2="30.4" stroke="#1a1a1a" stroke-width="1.1" />
<line x1="275.2" y1="152.4" x2="275.2" y2="148.8" stroke="#1a1a1a" stroke-width="1.1" />
<line x1="284" y1="26.8" x2="284" y2="30.4" stroke="#1a1a1a" stroke-width="1.1" />
<line x1="284" y1="152.4" x2="284" y2="148.8" stroke="#1a1a1a" stroke-width="1.1" />
<line x1="292.8" y1="26.8" x2="292.8" y2="30.4" stroke="#1a1a1a" stroke-width="1.1" />
<line x1="292.8" y1="152.4" x2="292.8" y2="148.8" stroke="#1a1a1a" stroke-width="1.1" />
<line x1="301.6" y1="26.8" x2="301.6" y2="30.4" stroke="#1a1a1a" stroke-width="1.1" />
<line x1="301.6" y1="152.4" x2="301.6" y2="148.8" stroke="#1a1a1a" stroke-width="1.1" />
<line x1="310.4" y1="26.8" x2="310.4" y2="34.1" stroke="#1a1a1a" stroke-width="1.1" />
<line x1="310.4" y1="152.4" x2="310.4" y2="145.1" stroke="#1a1a1a" stroke-width="1.1" />
<line x1="319.2" y1="26.8" x2="319.2" y2="30.4" stroke="#1a1a1a" stroke-width="1.1" />
<line x1="319.2" y1="152.4" x2="319.2" y2="148.8" stroke="#1a1a1a" stroke-width="1.1" />
<line x1="328" y1="26.8" x2="328" y2="30.4" stroke="#1a1a1a" stroke-width="1.1" />
<line x1="328" y1="152.4" x2="328" y2="148.8" stroke="#1a1a1a" stroke-width="1.1" />
<line x1="336.8" y1="26.8" x2="336.8" y2="30.4" stroke="#1a1a1a" stroke-width="1.1" />
<line x1="336.8" y1="152.4" x2="336.8" y2="148.8" stroke="#1a1a1a" stroke-width="1.1" />
<line x1="345.6" y1="26.8" x2="345.6" y2="30.4" stroke="#1a1a1a" stroke-width="1.1" />
<line x1="345.6" y1="152.4" x2="345.6" y2="148.8" stroke="#1a1a1a" stroke-width="1.1" />
<line x1="354.4" y1="26.8" x2="354.4" y2="34.1" stroke="#1a1a1a" stroke-width="1.1" />
<line x1="354.4" y1="152.4" x2="354.4" y2="145.1" stroke="#1a1a1a" stroke-width="1.1" />
<line x1="363.2" y1="26.8" x2="363.2" y2="30.4" stroke="#1a1a1a" stroke-width="1.1" />
<line x1="363.2" y1="152.4" x2="363.2" y2="148.8" stroke="#1a1a1a" stroke-width="1.1" />
<line x1="372" y1="26.8" x2="372" y2="30.4" stroke="#1a1a1a" stroke-width="1.1" />
<line x1="372" y1="152.4" x2="372" y2="148.8" stroke="#1a1a1a" stroke-width="1.1" />
<rect x="262" y="26.8" width="118.5" height="125.6" fill="none" stroke="#000" stroke-width="1.4"/>
<text x="233.7" y="177" font-size="14.2" text-anchor="start" fill="#111" stroke="#111" stroke-width="0.35" font-weight="bold" >c</text>
<line x1="309.7" y1="193" x2="309.7" y2="297.5" stroke="#d98aa8" stroke-width="0.9" stroke-dasharray="1 1.3"/>
<line x1="262" y1="270.5" x2="269.6" y2="270.5" stroke="#1a1a1a" stroke-width="1.1" />
<line x1="380.5" y1="270.5" x2="372.9" y2="270.5" stroke="#1a1a1a" stroke-width="1.1" />
<line x1="262" y1="236.74" x2="269.6" y2="236.74" stroke="#1a1a1a" stroke-width="1.1" />
<line x1="380.5" y1="236.74" x2="372.9" y2="236.74" stroke="#1a1a1a" stroke-width="1.1" />
<line x1="262" y1="202.98" x2="269.6" y2="202.98" stroke="#1a1a1a" stroke-width="1.1" />
<line x1="380.5" y1="202.98" x2="372.9" y2="202.98" stroke="#1a1a1a" stroke-width="1.1" />
<line x1="262" y1="287.38" x2="266" y2="287.38" stroke="#1a1a1a" stroke-width="1.1" />
<line x1="380.5" y1="287.38" x2="376.5" y2="287.38" stroke="#1a1a1a" stroke-width="1.1" />
<line x1="262" y1="253.62" x2="266" y2="253.62" stroke="#1a1a1a" stroke-width="1.1" />
<line x1="380.5" y1="253.62" x2="376.5" y2="253.62" stroke="#1a1a1a" stroke-width="1.1" />
<line x1="262" y1="219.86" x2="266" y2="219.86" stroke="#1a1a1a" stroke-width="1.1" />
<line x1="380.5" y1="219.86" x2="376.5" y2="219.86" stroke="#1a1a1a" stroke-width="1.1" />
<line x1="262" y1="186.1" x2="266" y2="186.1" stroke="#1a1a1a" stroke-width="1.1" />
<line x1="380.5" y1="186.1" x2="376.5" y2="186.1" stroke="#1a1a1a" stroke-width="1.1" />
<text x="257.6" y="274.6" font-size="10.4" text-anchor="end" fill="#222" stroke="#222" stroke-width="0.22" font-weight="normal" >0.26</text>
<text x="257.6" y="240.84" font-size="10.4" text-anchor="end" fill="#222" stroke="#222" stroke-width="0.22" font-weight="normal" >0.28</text>
<text x="257.6" y="207.08" font-size="10.4" text-anchor="end" fill="#222" stroke="#222" stroke-width="0.22" font-weight="normal" >0.30</text>
<text x="289.2" y="191.4" font-size="10.4" text-anchor="start" fill="#111" stroke="#111" stroke-width="0.22" font-weight="normal" >[0,0.07] eV</text>
<text x="312.5" y="230.3" font-size="12.2" text-anchor="start" fill="#dea2bc" stroke="#dea2bc" stroke-width="0.22" font-weight="normal" >Tc</text>
<polygon points="276,218.1 279.6,214.2 283.2,218.1 279.6,222" fill="#fff" stroke="#17838f" stroke-width="1.0" />
<polygon points="280.4,216.5 284,212.6 287.6,216.5 284,220.4" fill="#fff" stroke="#17838f" stroke-width="1.0" />
<polygon points="284.8,219.5 288.4,215.6 292,219.5 288.4,223.4" fill="#fff" stroke="#17838f" stroke-width="1.0" />
<polygon points="289.2,223 292.8,219.1 296.4,223 292.8,226.9" fill="#fff" stroke="#17838f" stroke-width="1.0" />
<polygon points="293.6,229.7 297.2,225.8 300.8,229.7 297.2,233.6" fill="#fff" stroke="#17838f" stroke-width="1.0" />
<polygon points="298,241 301.6,237.1 305.2,241 301.6,244.9" fill="#fff" stroke="#17838f" stroke-width="1.0" />
<polygon points="302.4,263.6 306,259.7 309.6,263.6 306,267.5" fill="#fff" stroke="#17838f" stroke-width="1.0" />
<polygon points="306.8,266.5 310.4,262.6 314,266.5 310.4,270.4" fill="#fff" stroke="#17838f" stroke-width="1.0" />
<polygon points="311.2,262 314.8,258.1 318.4,262 314.8,265.9" fill="#fff" stroke="#17838f" stroke-width="1.0" />
<polygon points="315.6,254 319.2,250.1 322.8,254 319.2,257.9" fill="#fff" stroke="#17838f" stroke-width="1.0" />
<polygon points="320,246.8 323.6,242.9 327.2,246.8 323.6,250.7" fill="#fff" stroke="#17838f" stroke-width="1.0" />
<polygon points="324.4,237.7 328,233.8 331.6,237.7 328,241.6" fill="#fff" stroke="#17838f" stroke-width="1.0" />
<polygon points="328.8,230.1 332.4,226.2 336,230.1 332.4,234" fill="#fff" stroke="#17838f" stroke-width="1.0" />
<polygon points="333.2,225.5 336.8,221.6 340.4,225.5 336.8,229.4" fill="#fff" stroke="#17838f" stroke-width="1.0" />
<polygon points="337.6,220.5 341.2,216.6 344.8,220.5 341.2,224.4" fill="#fff" stroke="#17838f" stroke-width="1.0" />
<polygon points="342,215.6 345.6,211.7 349.2,215.6 345.6,219.5" fill="#fff" stroke="#17838f" stroke-width="1.0" />
<polygon points="346.4,212.8 350,208.9 353.6,212.8 350,216.7" fill="#fff" stroke="#17838f" stroke-width="1.0" />
<polygon points="350.8,209.5 354.4,205.6 358,209.5 354.4,213.4" fill="#fff" stroke="#17838f" stroke-width="1.0" />
<polygon points="355.2,206.5 358.8,202.6 362.4,206.5 358.8,210.4" fill="#fff" stroke="#17838f" stroke-width="1.0" />
<polygon points="359.6,204 363.2,200.1 366.8,204 363.2,207.9" fill="#fff" stroke="#17838f" stroke-width="1.0" />
<polygon points="364,206 367.6,202.1 371.2,206 367.6,209.9" fill="#fff" stroke="#17838f" stroke-width="1.0" />
<polygon points="368.4,204.5 372,200.6 375.6,204.5 372,208.4" fill="#fff" stroke="#17838f" stroke-width="1.0" />
<polygon points="275.6,215.7 279.6,211.6 283.6,215.7 279.6,219.8" fill="#17838f" stroke="#fff" stroke-width="0.5" />
<polygon points="280,214 284,209.9 288,214 284,218.1" fill="#17838f" stroke="#fff" stroke-width="0.5" />
<polygon points="284.4,217.3 288.4,213.2 292.4,217.3 288.4,221.4" fill="#17838f" stroke="#fff" stroke-width="0.5" />
<polygon points="288.8,220.6 292.8,216.5 296.8,220.6 292.8,224.7" fill="#17838f" stroke="#fff" stroke-width="0.5" />
<polygon points="293.2,226.4 297.2,222.3 301.2,226.4 297.2,230.5" fill="#17838f" stroke="#fff" stroke-width="0.5" />
<polygon points="297.6,238.7 301.6,234.6 305.6,238.7 301.6,242.8" fill="#17838f" stroke="#fff" stroke-width="0.5" />
<polygon points="302,258 306,253.9 310,258 306,262.1" fill="#17838f" stroke="#fff" stroke-width="0.5" />
<polygon points="306.4,263.6 310.4,259.5 314.4,263.6 310.4,267.7" fill="#17838f" stroke="#fff" stroke-width="0.5" />
<polygon points="310.8,259 314.8,254.9 318.8,259 314.8,263.1" fill="#17838f" stroke="#fff" stroke-width="0.5" />
<polygon points="315.2,250.7 319.2,246.6 323.2,250.7 319.2,254.8" fill="#17838f" stroke="#fff" stroke-width="0.5" />
<polygon points="319.6,242.1 323.6,238 327.6,242.1 323.6,246.2" fill="#17838f" stroke="#fff" stroke-width="0.5" />
<polygon points="324,234.5 328,230.4 332,234.5 328,238.6" fill="#17838f" stroke="#fff" stroke-width="0.5" />
<polygon points="328.4,228.6 332.4,224.5 336.4,228.6 332.4,232.7" fill="#17838f" stroke="#fff" stroke-width="0.5" />
<polygon points="332.8,222.5 336.8,218.4 340.8,222.5 336.8,226.6" fill="#17838f" stroke="#fff" stroke-width="0.5" />
<polygon points="337.2,218.2 341.2,214.1 345.2,218.2 341.2,222.3" fill="#17838f" stroke="#fff" stroke-width="0.5" />
<polygon points="341.6,213.4 345.6,209.3 349.6,213.4 345.6,217.5" fill="#17838f" stroke="#fff" stroke-width="0.5" />
<polygon points="346,210.6 350,206.5 354,210.6 350,214.7" fill="#17838f" stroke="#fff" stroke-width="0.5" />
<polygon points="350.4,207.4 354.4,203.3 358.4,207.4 354.4,211.5" fill="#17838f" stroke="#fff" stroke-width="0.5" />
<polygon points="354.8,204.1 358.8,200 362.8,204.1 358.8,208.2" fill="#17838f" stroke="#fff" stroke-width="0.5" />
<polygon points="359.2,201.3 363.2,197.2 367.2,201.3 363.2,205.4" fill="#17838f" stroke="#fff" stroke-width="0.5" />
<polygon points="363.6,204.1 367.6,200 371.6,204.1 367.6,208.2" fill="#17838f" stroke="#fff" stroke-width="0.5" />
<polygon points="368,202.6 372,198.5 376,202.6 372,206.7" fill="#17838f" stroke="#fff" stroke-width="0.5" />
<line x1="273.9" y1="227" x2="273.9" y2="258" stroke="#3d929a" stroke-width="2.0" stroke-dasharray="4.5 3"/>
<polygon points="271.3,225.3 273.9,214.8 276.5,225.3" fill="#17838f" stroke="none" stroke-width="0" />
<polygon points="271.3,259.3 273.9,269.8 276.5,259.3" fill="#17838f" stroke="none" stroke-width="0" />
<polygon points="340.3,267.9 343.6,264.3 346.9,267.9 343.6,271.5" fill="#fff" stroke="#17838f" stroke-width="1.0" />
<text x="352" y="272.4" font-size="10.4" text-anchor="start" fill="#111" stroke="#111" stroke-width="0.22" font-weight="normal" >AN</text>
<text x="366.6" y="264.8" font-size="6" text-anchor="start" fill="#111" stroke="#111" stroke-width="0.22" font-weight="normal" >-</text>
<polygon points="340,283.9 343.6,280.1 347.2,283.9 343.6,287.7" fill="#17838f" stroke="#fff" stroke-width="0.5" />
<text x="352" y="288.3" font-size="10.4" text-anchor="start" fill="#111" stroke="#111" stroke-width="0.22" font-weight="normal" >AN</text>
<text x="366.4" y="281" font-size="6" text-anchor="start" fill="#111" stroke="#111" stroke-width="0.22" font-weight="normal" >+</text>
<line x1="266.4" y1="173.9" x2="266.4" y2="181.2" stroke="#1a1a1a" stroke-width="1.1" />
<line x1="266.4" y1="299.3" x2="266.4" y2="292" stroke="#1a1a1a" stroke-width="1.1" />
<line x1="275.2" y1="173.9" x2="275.2" y2="177.5" stroke="#1a1a1a" stroke-width="1.1" />
<line x1="275.2" y1="299.3" x2="275.2" y2="295.7" stroke="#1a1a1a" stroke-width="1.1" />
<line x1="284" y1="173.9" x2="284" y2="177.5" stroke="#1a1a1a" stroke-width="1.1" />
<line x1="284" y1="299.3" x2="284" y2="295.7" stroke="#1a1a1a" stroke-width="1.1" />
<line x1="292.8" y1="173.9" x2="292.8" y2="177.5" stroke="#1a1a1a" stroke-width="1.1" />
<line x1="292.8" y1="299.3" x2="292.8" y2="295.7" stroke="#1a1a1a" stroke-width="1.1" />
<line x1="301.6" y1="173.9" x2="301.6" y2="177.5" stroke="#1a1a1a" stroke-width="1.1" />
<line x1="301.6" y1="299.3" x2="301.6" y2="295.7" stroke="#1a1a1a" stroke-width="1.1" />
<line x1="310.4" y1="173.9" x2="310.4" y2="181.2" stroke="#1a1a1a" stroke-width="1.1" />
<line x1="310.4" y1="299.3" x2="310.4" y2="292" stroke="#1a1a1a" stroke-width="1.1" />
<line x1="319.2" y1="173.9" x2="319.2" y2="177.5" stroke="#1a1a1a" stroke-width="1.1" />
<line x1="319.2" y1="299.3" x2="319.2" y2="295.7" stroke="#1a1a1a" stroke-width="1.1" />
<line x1="328" y1="173.9" x2="328" y2="177.5" stroke="#1a1a1a" stroke-width="1.1" />
<line x1="328" y1="299.3" x2="328" y2="295.7" stroke="#1a1a1a" stroke-width="1.1" />
<line x1="336.8" y1="173.9" x2="336.8" y2="177.5" stroke="#1a1a1a" stroke-width="1.1" />
<line x1="336.8" y1="299.3" x2="336.8" y2="295.7" stroke="#1a1a1a" stroke-width="1.1" />
<line x1="345.6" y1="173.9" x2="345.6" y2="177.5" stroke="#1a1a1a" stroke-width="1.1" />
<line x1="345.6" y1="299.3" x2="345.6" y2="295.7" stroke="#1a1a1a" stroke-width="1.1" />
<line x1="354.4" y1="173.9" x2="354.4" y2="181.2" stroke="#1a1a1a" stroke-width="1.1" />
<line x1="354.4" y1="299.3" x2="354.4" y2="292" stroke="#1a1a1a" stroke-width="1.1" />
<line x1="363.2" y1="173.9" x2="363.2" y2="177.5" stroke="#1a1a1a" stroke-width="1.1" />
<line x1="363.2" y1="299.3" x2="363.2" y2="295.7" stroke="#1a1a1a" stroke-width="1.1" />
<line x1="372" y1="173.9" x2="372" y2="177.5" stroke="#1a1a1a" stroke-width="1.1" />
<line x1="372" y1="299.3" x2="372" y2="295.7" stroke="#1a1a1a" stroke-width="1.1" />
<rect x="262" y="173.9" width="118.5" height="125.4" fill="none" stroke="#000" stroke-width="1.4"/>
<text x="234.1" y="318.8" font-size="14.2" text-anchor="start" fill="#111" stroke="#111" stroke-width="0.35" font-weight="bold" >d</text>
<line x1="309.7" y1="341" x2="309.7" y2="445.5" stroke="#d98aa8" stroke-width="0.9" stroke-dasharray="1 1.3"/>
<line x1="262" y1="338.8" x2="269.6" y2="338.8" stroke="#1a1a1a" stroke-width="1.1" />
<line x1="380.5" y1="338.8" x2="372.9" y2="338.8" stroke="#1a1a1a" stroke-width="1.1" />
<line x1="262" y1="367.73" x2="269.6" y2="367.73" stroke="#1a1a1a" stroke-width="1.1" />
<line x1="380.5" y1="367.73" x2="372.9" y2="367.73" stroke="#1a1a1a" stroke-width="1.1" />
<line x1="262" y1="396.66" x2="269.6" y2="396.66" stroke="#1a1a1a" stroke-width="1.1" />
<line x1="380.5" y1="396.66" x2="372.9" y2="396.66" stroke="#1a1a1a" stroke-width="1.1" />
<line x1="262" y1="425.59" x2="269.6" y2="425.59" stroke="#1a1a1a" stroke-width="1.1" />
<line x1="380.5" y1="425.59" x2="372.9" y2="425.59" stroke="#1a1a1a" stroke-width="1.1" />
<text x="257.6" y="342.9" font-size="10.4" text-anchor="end" fill="#222" stroke="#222" stroke-width="0.22" font-weight="normal" >0.44</text>
<text x="257.6" y="371.83" font-size="10.4" text-anchor="end" fill="#222" stroke="#222" stroke-width="0.22" font-weight="normal" >0.43</text>
<text x="257.6" y="400.76" font-size="10.4" text-anchor="end" fill="#222" stroke="#222" stroke-width="0.22" font-weight="normal" >0.42</text>
<text x="257.6" y="429.69" font-size="10.4" text-anchor="end" fill="#222" stroke="#222" stroke-width="0.22" font-weight="normal" >0.41</text>
<text x="288.6" y="337.8" font-size="10.4" text-anchor="start" fill="#111" stroke="#111" stroke-width="0.22" font-weight="normal" >[0.20, 0.25] eV</text>
<text x="330.4" y="350" font-size="10.4" text-anchor="start" fill="#111" stroke="#111" stroke-width="0.22" font-weight="normal" >(x2.3)</text>
<text x="294" y="409" font-size="12.2" text-anchor="start" fill="#dea2bc" stroke="#dea2bc" stroke-width="0.22" font-weight="normal" >Tc</text>
<polygon points="277.1,364.6 279.6,360.7 282.1,364.6 279.6,368.5" fill="#fff" stroke="#f4cd85" stroke-width="1.0" />
<polygon points="281.5,373.6 284,369.7 286.5,373.6 284,377.5" fill="#fff" stroke="#f4cd85" stroke-width="1.0" />
<polygon points="285.9,375.4 288.4,371.5 290.9,375.4 288.4,379.3" fill="#fff" stroke="#f4cd85" stroke-width="1.0" />
<polygon points="290.3,371.8 292.8,367.9 295.3,371.8 292.8,375.7" fill="#fff" stroke="#f4cd85" stroke-width="1.0" />
<polygon points="294.7,376.8 297.2,372.9 299.7,376.8 297.2,380.7" fill="#fff" stroke="#f4cd85" stroke-width="1.0" />
<polygon points="299.1,372.7 301.6,368.8 304.1,372.7 301.6,376.6" fill="#fff" stroke="#f4cd85" stroke-width="1.0" />
<polygon points="303.5,358.4 306,354.5 308.5,358.4 306,362.3" fill="#fff" stroke="#f4cd85" stroke-width="1.0" />
<polygon points="307.9,367.3 310.4,363.4 312.9,367.3 310.4,371.2" fill="#fff" stroke="#f4cd85" stroke-width="1.0" />
<polygon points="312.3,378 314.8,374.1 317.3,378 314.8,381.9" fill="#fff" stroke="#f4cd85" stroke-width="1.0" />
<polygon points="316.7,381.6 319.2,377.7 321.7,381.6 319.2,385.5" fill="#fff" stroke="#f4cd85" stroke-width="1.0" />
<polygon points="321.1,392.5 323.6,388.6 326.1,392.5 323.6,396.4" fill="#fff" stroke="#f4cd85" stroke-width="1.0" />
<polygon points="325.5,403.5 328,399.6 330.5,403.5 328,407.4" fill="#fff" stroke="#f4cd85" stroke-width="1.0" />
<polygon points="329.9,411.6 332.4,407.7 334.9,411.6 332.4,415.5" fill="#fff" stroke="#f4cd85" stroke-width="1.0" />
<polygon points="334.3,417.8 336.8,413.9 339.3,417.8 336.8,421.7" fill="#fff" stroke="#f4cd85" stroke-width="1.0" />
<polygon points="338.7,422.9 341.2,419 343.7,422.9 341.2,426.8" fill="#fff" stroke="#f4cd85" stroke-width="1.0" />
<polygon points="343.1,427 345.6,423.1 348.1,427 345.6,430.9" fill="#fff" stroke="#f4cd85" stroke-width="1.0" />
<polygon points="347.5,429 350,425.1 352.5,429 350,432.9" fill="#fff" stroke="#f4cd85" stroke-width="1.0" />
<polygon points="351.9,431 354.4,427.1 356.9,431 354.4,434.9" fill="#fff" stroke="#f4cd85" stroke-width="1.0" />
<polygon points="356.3,434.1 358.8,430.2 361.3,434.1 358.8,438" fill="#fff" stroke="#f4cd85" stroke-width="1.0" />
<polygon points="360.7,436.1 363.2,432.2 365.7,436.1 363.2,440" fill="#fff" stroke="#f4cd85" stroke-width="1.0" />
<polygon points="365.1,432 367.6,428.1 370.1,432 367.6,435.9" fill="#fff" stroke="#f4cd85" stroke-width="1.0" />
<polygon points="369.5,434.7 372,430.8 374.5,434.7 372,438.6" fill="#fff" stroke="#f4cd85" stroke-width="1.0" />
<polygon points="276.8,357.9 279.6,353.5 282.4,357.9 279.6,362.3" fill="#f0ae2c" stroke="#fff" stroke-width="0.5" />
<polygon points="281.2,363.2 284,358.8 286.8,363.2 284,367.6" fill="#f0ae2c" stroke="#fff" stroke-width="0.5" />
<polygon points="285.6,367.3 288.4,362.9 291.2,367.3 288.4,371.7" fill="#f0ae2c" stroke="#fff" stroke-width="0.5" />
<polygon points="290,365.5 292.8,361.1 295.6,365.5 292.8,369.9" fill="#f0ae2c" stroke="#fff" stroke-width="0.5" />
<polygon points="294.4,363.8 297.2,359.4 300,363.8 297.2,368.2" fill="#f0ae2c" stroke="#fff" stroke-width="0.5" />
<polygon points="298.8,360.2 301.6,355.8 304.4,360.2 301.6,364.6" fill="#f0ae2c" stroke="#fff" stroke-width="0.5" />
<polygon points="303.2,353 306,348.6 308.8,353 306,357.4" fill="#f0ae2c" stroke="#fff" stroke-width="0.5" />
<polygon points="307.6,360.2 310.4,355.8 313.2,360.2 310.4,364.6" fill="#f0ae2c" stroke="#fff" stroke-width="0.5" />
<polygon points="312,367.3 314.8,362.9 317.6,367.3 314.8,371.7" fill="#f0ae2c" stroke="#fff" stroke-width="0.5" />
<polygon points="316.4,377.8 319.2,373.4 322,377.8 319.2,382.2" fill="#f0ae2c" stroke="#fff" stroke-width="0.5" />
<polygon points="320.8,386.7 323.6,382.3 326.4,386.7 323.6,391.1" fill="#f0ae2c" stroke="#fff" stroke-width="0.5" />
<polygon points="325.2,397 328,392.6 330.8,397 328,401.4" fill="#f0ae2c" stroke="#fff" stroke-width="0.5" />
<polygon points="329.6,405.5 332.4,401.1 335.2,405.5 332.4,409.9" fill="#f0ae2c" stroke="#fff" stroke-width="0.5" />
<polygon points="334,409.6 336.8,405.2 339.6,409.6 336.8,414" fill="#f0ae2c" stroke="#fff" stroke-width="0.5" />
<polygon points="338.4,415.7 341.2,411.3 344,415.7 341.2,420.1" fill="#f0ae2c" stroke="#fff" stroke-width="0.5" />
<polygon points="342.8,421.8 345.6,417.4 348.4,421.8 345.6,426.2" fill="#f0ae2c" stroke="#fff" stroke-width="0.5" />
<polygon points="347.2,423.9 350,419.5 352.8,423.9 350,428.3" fill="#f0ae2c" stroke="#fff" stroke-width="0.5" />
<polygon points="351.6,427.3 354.4,422.9 357.2,427.3 354.4,431.7" fill="#f0ae2c" stroke="#fff" stroke-width="0.5" />
<polygon points="356,432 358.8,427.6 361.6,432 358.8,436.4" fill="#f0ae2c" stroke="#fff" stroke-width="0.5" />
<polygon points="360.4,431.4 363.2,427 366,431.4 363.2,435.8" fill="#f0ae2c" stroke="#fff" stroke-width="0.5" />
<polygon points="364.8,428 367.6,423.6 370.4,428 367.6,432.4" fill="#f0ae2c" stroke="#fff" stroke-width="0.5" />
<polygon points="369.2,429 372,424.6 374.8,429 372,433.4" fill="#f0ae2c" stroke="#fff" stroke-width="0.5" />
<polygon points="341.2,368 343.7,364.1 346.2,368 343.7,371.9" fill="#fff" stroke="#f4cd85" stroke-width="1.0" />
<text x="351.8" y="371" font-size="10.4" text-anchor="start" fill="#111" stroke="#111" stroke-width="0.22" font-weight="normal" >AN</text>
<text x="366.3" y="363.5" font-size="6" text-anchor="start" fill="#111" stroke="#111" stroke-width="0.22" font-weight="normal" >-</text>
<polygon points="340.9,383.7 343.7,379.3 346.5,383.7 343.7,388.1" fill="#f0ae2c" stroke="#fff" stroke-width="0.5" />
<text x="351.8" y="387.3" font-size="10.4" text-anchor="start" fill="#111" stroke="#111" stroke-width="0.22" font-weight="normal" >AN</text>
<text x="366.2" y="380" font-size="6" text-anchor="start" fill="#111" stroke="#111" stroke-width="0.22" font-weight="normal" >+</text>
<line x1="266.4" y1="321.2" x2="266.4" y2="328.5" stroke="#1a1a1a" stroke-width="1.1" />
<line x1="266.4" y1="446.8" x2="266.4" y2="439.5" stroke="#1a1a1a" stroke-width="1.1" />
<line x1="275.2" y1="321.2" x2="275.2" y2="324.8" stroke="#1a1a1a" stroke-width="1.1" />
<line x1="275.2" y1="446.8" x2="275.2" y2="443.2" stroke="#1a1a1a" stroke-width="1.1" />
<line x1="284" y1="321.2" x2="284" y2="324.8" stroke="#1a1a1a" stroke-width="1.1" />
<line x1="284" y1="446.8" x2="284" y2="443.2" stroke="#1a1a1a" stroke-width="1.1" />
<line x1="292.8" y1="321.2" x2="292.8" y2="324.8" stroke="#1a1a1a" stroke-width="1.1" />
<line x1="292.8" y1="446.8" x2="292.8" y2="443.2" stroke="#1a1a1a" stroke-width="1.1" />
<line x1="301.6" y1="321.2" x2="301.6" y2="324.8" stroke="#1a1a1a" stroke-width="1.1" />
<line x1="301.6" y1="446.8" x2="301.6" y2="443.2" stroke="#1a1a1a" stroke-width="1.1" />
<line x1="310.4" y1="321.2" x2="310.4" y2="328.5" stroke="#1a1a1a" stroke-width="1.1" />
<line x1="310.4" y1="446.8" x2="310.4" y2="439.5" stroke="#1a1a1a" stroke-width="1.1" />
<line x1="319.2" y1="321.2" x2="319.2" y2="324.8" stroke="#1a1a1a" stroke-width="1.1" />
<line x1="319.2" y1="446.8" x2="319.2" y2="443.2" stroke="#1a1a1a" stroke-width="1.1" />
<line x1="328" y1="321.2" x2="328" y2="324.8" stroke="#1a1a1a" stroke-width="1.1" />
<line x1="328" y1="446.8" x2="328" y2="443.2" stroke="#1a1a1a" stroke-width="1.1" />
<line x1="336.8" y1="321.2" x2="336.8" y2="324.8" stroke="#1a1a1a" stroke-width="1.1" />
<line x1="336.8" y1="446.8" x2="336.8" y2="443.2" stroke="#1a1a1a" stroke-width="1.1" />
<line x1="345.6" y1="321.2" x2="345.6" y2="324.8" stroke="#1a1a1a" stroke-width="1.1" />
<line x1="345.6" y1="446.8" x2="345.6" y2="443.2" stroke="#1a1a1a" stroke-width="1.1" />
<line x1="354.4" y1="321.2" x2="354.4" y2="328.5" stroke="#1a1a1a" stroke-width="1.1" />
<line x1="354.4" y1="446.8" x2="354.4" y2="439.5" stroke="#1a1a1a" stroke-width="1.1" />
<line x1="363.2" y1="321.2" x2="363.2" y2="324.8" stroke="#1a1a1a" stroke-width="1.1" />
<line x1="363.2" y1="446.8" x2="363.2" y2="443.2" stroke="#1a1a1a" stroke-width="1.1" />
<line x1="372" y1="321.2" x2="372" y2="324.8" stroke="#1a1a1a" stroke-width="1.1" />
<line x1="372" y1="446.8" x2="372" y2="443.2" stroke="#1a1a1a" stroke-width="1.1" />
<rect x="262" y="321.2" width="118.5" height="125.6" fill="none" stroke="#000" stroke-width="1.4"/>
<text x="266.4" y="460.7" font-size="10.4" text-anchor="middle" fill="#222" stroke="#222" stroke-width="0.22" font-weight="normal" >0</text>
<text x="310.4" y="460.7" font-size="10.4" text-anchor="middle" fill="#222" stroke="#222" stroke-width="0.22" font-weight="normal" >100</text>
<text x="354.4" y="460.7" font-size="10.4" text-anchor="middle" fill="#222" stroke="#222" stroke-width="0.22" font-weight="normal" >200</text>
<text x="319.9" y="474.6" font-size="10.4" text-anchor="middle" fill="#222" stroke="#222" stroke-width="0.22" font-weight="normal" >Temperature (K)</text>
<text x="216.8" y="310.4" font-size="11.85" text-anchor="middle" fill="#222" stroke="#222" stroke-width="0.22" font-weight="normal" transform="rotate(-90 216.8 310.4)">Spectral Weight (arb. units)</text>
</svg></body></html>
